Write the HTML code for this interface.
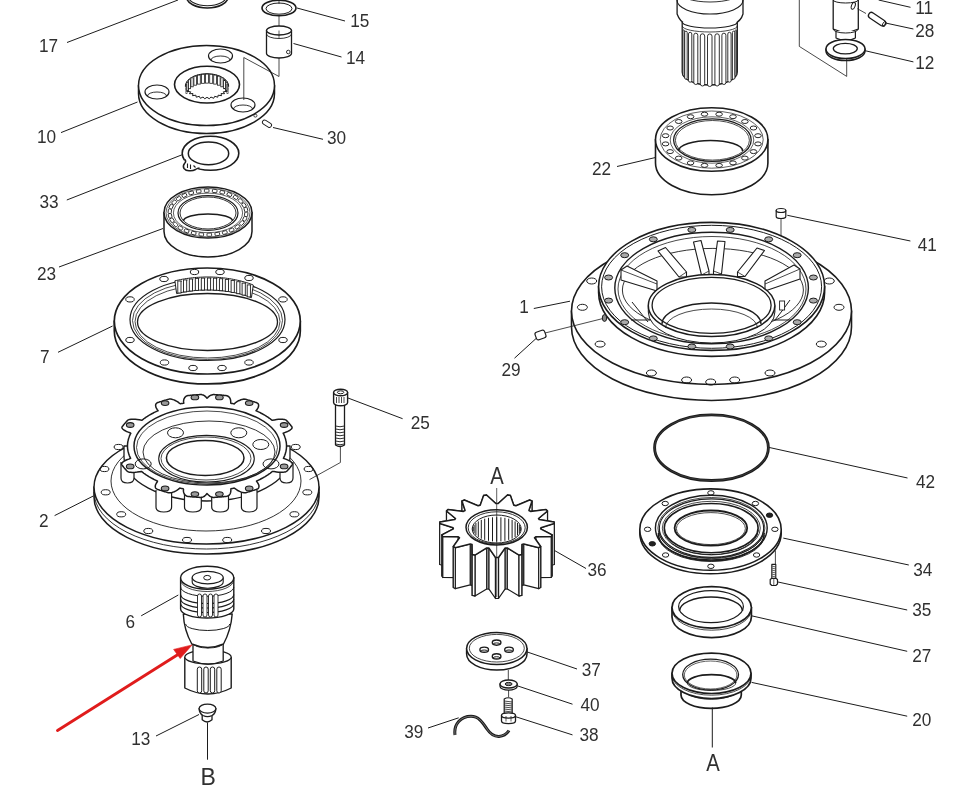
<!DOCTYPE html>
<html><head><meta charset="utf-8"><style>
html,body{margin:0;padding:0;background:#fff;}
body{width:967px;height:789px;overflow:hidden;}
svg{display:block;will-change:transform;}
text{font-family:"Liberation Sans",sans-serif;fill:#303030;}
</style></head><body>
<svg width="967" height="789" viewBox="0 0 967 789">
<rect width="967" height="789" fill="#fff"/>
<ellipse cx="207.3" cy="-3" rx="20.7" ry="11" fill="none" stroke="#1c1c1c" stroke-width="1.6"/>
<ellipse cx="207.3" cy="-4.5" rx="19.5" ry="10.2" fill="none" stroke="#1c1c1c" stroke-width="1.1"/>
<line x1="67" y1="42.5" x2="178" y2="0" stroke="#1c1c1c" stroke-width="1.0"/>
<ellipse cx="279" cy="8" rx="17" ry="7.8" fill="none" stroke="#1c1c1c" stroke-width="1.6"/>
<ellipse cx="279" cy="8.6" rx="13" ry="5.6" fill="none" stroke="#1c1c1c" stroke-width="1.0"/>
<line x1="279" y1="0" x2="279" y2="4" stroke="#1c1c1c" stroke-width="0.8"/>
<line x1="279" y1="16" x2="279" y2="29" stroke="#1c1c1c" stroke-width="0.8"/>
<line x1="297" y1="8" x2="345" y2="21" stroke="#1c1c1c" stroke-width="1.0"/>
<path d="M266.5,30.5 L266.5,53.5 A12.5,4.5 0 0 0 291.5,53.5 L291.5,30.5 Z" fill="#fff" stroke="#1c1c1c" stroke-width="1.3" stroke-linejoin="round"/>
<ellipse cx="279" cy="30.5" rx="12.5" ry="4.5" fill="#fff" stroke="#1c1c1c" stroke-width="1.3"/>
<path d="M266.5,34 A12.5,4.5 0 0 0 291.5,34" fill="none" stroke="#1c1c1c" stroke-width="0.9" stroke-linejoin="round"/>
<ellipse cx="288.3" cy="52" rx="1.8" ry="1.8" fill="none" stroke="#1c1c1c" stroke-width="0.9"/>
<line x1="279" y1="30.5" x2="279" y2="38" stroke="#1c1c1c" stroke-width="0.7"/>
<line x1="293.5" y1="43.5" x2="341.5" y2="57" stroke="#1c1c1c" stroke-width="1.0"/>
<path d="M138.5,85.5 L138.5,93.5 A68,40 0 0 0 274.5,93.5 L274.5,85.5 Z" fill="#fff" stroke="#1c1c1c" stroke-width="1.5" stroke-linejoin="round"/>
<ellipse cx="206.5" cy="85.5" rx="68" ry="40" fill="#fff" stroke="#1c1c1c" stroke-width="1.5"/>
<polyline points="279,58 279,76.5 243.8,57.5 243.8,100" fill="none" stroke="#1c1c1c" stroke-width="0.8" stroke-linejoin="round"/>
<ellipse cx="207" cy="84.6" rx="32.5" ry="18.4" fill="none" stroke="#1c1c1c" stroke-width="1.6"/>
<polyline points="228.7,86.3 225.8,87.4 228.2,88.9 225,89.7 226.8,91.4 223.3,91.8 224.6,93.7 221,93.6 221.5,95.7 218.1,95.2 217.8,97.2 214.7,96.3 213.7,98.3 210.9,97 209.3,98.8 207,97.3 204.7,98.8 203.1,97 200.3,98.3 199.3,96.3 196.2,97.2 195.9,95.2 192.5,95.7 193,93.6 189.4,93.7 190.7,91.8 187.2,91.4 189,89.7 185.8,88.9 188.2,87.4 185.3,86.3" fill="none" stroke="#1c1c1c" stroke-width="1.0" stroke-linejoin="round"/>
<path d="M185.3,86.3 A21.7,12.6 0 0 1 228.7,86.3" fill="none" stroke="#1c1c1c" stroke-width="1.0" stroke-linejoin="round"/>
<rect x="186" y="84.3" width="1" height="9" fill="#fff" stroke="#1c1c1c" stroke-width="0.8"/>
<rect x="186.9" y="81.9" width="1.5" height="9" fill="#fff" stroke="#1c1c1c" stroke-width="0.8"/>
<rect x="188.5" y="79.7" width="1.9" height="9" fill="#fff" stroke="#1c1c1c" stroke-width="0.8"/>
<rect x="190.9" y="77.8" width="2.3" height="9" fill="#fff" stroke="#1c1c1c" stroke-width="0.8"/>
<rect x="193.9" y="76.2" width="2.6" height="9" fill="#fff" stroke="#1c1c1c" stroke-width="0.8"/>
<rect x="197.5" y="75.1" width="2.8" height="9" fill="#fff" stroke="#1c1c1c" stroke-width="0.8"/>
<rect x="201.4" y="74.3" width="3" height="9" fill="#fff" stroke="#1c1c1c" stroke-width="0.8"/>
<rect x="205.5" y="74.1" width="3" height="9" fill="#fff" stroke="#1c1c1c" stroke-width="0.8"/>
<rect x="209.7" y="74.3" width="3" height="9" fill="#fff" stroke="#1c1c1c" stroke-width="0.8"/>
<rect x="213.7" y="75.1" width="2.8" height="9" fill="#fff" stroke="#1c1c1c" stroke-width="0.8"/>
<rect x="217.5" y="76.2" width="2.6" height="9" fill="#fff" stroke="#1c1c1c" stroke-width="0.8"/>
<rect x="220.8" y="77.8" width="2.3" height="9" fill="#fff" stroke="#1c1c1c" stroke-width="0.8"/>
<rect x="223.6" y="79.7" width="1.9" height="9" fill="#fff" stroke="#1c1c1c" stroke-width="0.8"/>
<rect x="225.7" y="81.9" width="1.5" height="9" fill="#fff" stroke="#1c1c1c" stroke-width="0.8"/>
<rect x="227" y="84.3" width="1" height="9" fill="#fff" stroke="#1c1c1c" stroke-width="0.8"/>
<ellipse cx="157" cy="92" rx="12" ry="7" fill="none" stroke="#1c1c1c" stroke-width="1.2"/>
<path d="M147.5,96 A9.5,4 0 0 1 166.5,96" fill="none" stroke="#1c1c1c" stroke-width="0.9" stroke-linejoin="round"/>
<ellipse cx="220.5" cy="56" rx="12" ry="7" fill="none" stroke="#1c1c1c" stroke-width="1.2"/>
<path d="M211,60 A9.5,4 0 0 1 230,60" fill="none" stroke="#1c1c1c" stroke-width="0.9" stroke-linejoin="round"/>
<ellipse cx="243" cy="105" rx="12" ry="7" fill="none" stroke="#1c1c1c" stroke-width="1.2"/>
<path d="M233.5,109 A9.5,4 0 0 1 252.5,109" fill="none" stroke="#1c1c1c" stroke-width="0.9" stroke-linejoin="round"/>
<ellipse cx="255.4" cy="115.7" rx="1.6" ry="1.4" fill="none" stroke="#1c1c1c" stroke-width="0.8"/>
<rect x="262" y="121.5" width="10" height="4.4" rx="2.2" fill="#fff" stroke="#1c1c1c" stroke-width="0.9" transform="rotate(32 267 123.7)"/>
<line x1="273" y1="127.5" x2="323" y2="139.3" stroke="#1c1c1c" stroke-width="1.0"/>
<line x1="61" y1="132.6" x2="137.5" y2="102" stroke="#1c1c1c" stroke-width="1.0"/>
<ellipse cx="210.5" cy="153.3" rx="28.3" ry="17" fill="none" stroke="#1c1c1c" stroke-width="1.6"/>
<ellipse cx="208.5" cy="153.4" rx="20.2" ry="11.4" fill="none" stroke="#1c1c1c" stroke-width="1.5"/>
<polygon points="185.5,158.5 183,163 183.2,167.5 186.5,170.6 191.5,171.2 196,169.5 199,167.5 195,164 189,161" fill="#fff" stroke="none" stroke-width="0" stroke-linejoin="round"/>
<path d="M185,159.5 Q186.5,162 184.5,163.5 Q182.5,166 184,168.5 Q186,171 189.5,170.8 Q193,171 195.5,169.5 Q197.5,168 199.5,168" fill="none" stroke="#1c1c1c" stroke-width="1.5" stroke-linejoin="round"/>
<path d="M187.5,163.5 L187.5,168 M190.5,164.5 L190.5,169 M193.5,165.5 L195.5,167.5" fill="none" stroke="#1c1c1c" stroke-width="1.1" stroke-linejoin="round"/>
<line x1="66.8" y1="200" x2="182" y2="154.8" stroke="#1c1c1c" stroke-width="1.0"/>
<path d="M164,212.5 L164,231.5 A44,25.5 0 0 0 252,231.5 L252,212.5 Z" fill="#fff" stroke="#1c1c1c" stroke-width="1.5" stroke-linejoin="round"/>
<ellipse cx="208" cy="212.5" rx="44" ry="25.5" fill="#fff" stroke="#1c1c1c" stroke-width="1.5"/>
<ellipse cx="208" cy="213" rx="30" ry="17.3" fill="none" stroke="#1c1c1c" stroke-width="1.2"/>
<ellipse cx="208" cy="213" rx="28" ry="16" fill="none" stroke="#1c1c1c" stroke-width="0.9"/>
<path d="M183.5,221 A24.5,7 0 0 1 232.5,221" fill="none" stroke="#1c1c1c" stroke-width="1.6" stroke-linejoin="round"/>
<ellipse cx="208" cy="212.7" rx="42" ry="24.2" fill="none" stroke="#1c1c1c" stroke-width="0.7"/>
<ellipse cx="208" cy="212.9" rx="34.6" ry="19.8" fill="none" stroke="#1c1c1c" stroke-width="0.7"/>
<rect x="243.9" y="212.6" width="4.6" height="3.2" rx="0.8" fill="#fff" stroke="#1c1c1c" stroke-width="0.85" transform="rotate(96.9 246.2 214.2)"/>
<rect x="242.5" y="217.2" width="4.6" height="3.2" rx="0.8" fill="#fff" stroke="#1c1c1c" stroke-width="0.85" transform="rotate(116.5 244.8 218.8)"/>
<rect x="239.5" y="221.4" width="4.6" height="3.2" rx="0.8" fill="#fff" stroke="#1c1c1c" stroke-width="0.85" transform="rotate(132.8 241.8 223)"/>
<rect x="235" y="225.2" width="4.6" height="3.2" rx="0.8" fill="#fff" stroke="#1c1c1c" stroke-width="0.85" transform="rotate(145.6 237.3 226.8)"/>
<rect x="229.3" y="228.4" width="4.6" height="3.2" rx="0.8" fill="#fff" stroke="#1c1c1c" stroke-width="0.85" transform="rotate(155.8 231.6 230)"/>
<rect x="222.5" y="230.9" width="4.6" height="3.2" rx="0.8" fill="#fff" stroke="#1c1c1c" stroke-width="0.85" transform="rotate(164.3 224.8 232.5)"/>
<rect x="215" y="232.4" width="4.6" height="3.2" rx="0.8" fill="#fff" stroke="#1c1c1c" stroke-width="0.85" transform="rotate(171.8 217.3 234)"/>
<rect x="207" y="233.1" width="4.6" height="3.2" rx="0.8" fill="#fff" stroke="#1c1c1c" stroke-width="0.85" transform="rotate(178.9 209.3 234.7)"/>
<rect x="199" y="232.8" width="4.6" height="3.2" rx="0.8" fill="#fff" stroke="#1c1c1c" stroke-width="0.85" transform="rotate(-174.2 201.3 234.4)"/>
<rect x="191.4" y="231.5" width="4.6" height="3.2" rx="0.8" fill="#fff" stroke="#1c1c1c" stroke-width="0.85" transform="rotate(-166.9 193.7 233.1)"/>
<rect x="184.3" y="229.3" width="4.6" height="3.2" rx="0.8" fill="#fff" stroke="#1c1c1c" stroke-width="0.85" transform="rotate(-158.8 186.6 230.9)"/>
<rect x="178.1" y="226.4" width="4.6" height="3.2" rx="0.8" fill="#fff" stroke="#1c1c1c" stroke-width="0.85" transform="rotate(-149.3 180.4 228)"/>
<rect x="173.2" y="222.8" width="4.6" height="3.2" rx="0.8" fill="#fff" stroke="#1c1c1c" stroke-width="0.85" transform="rotate(-137.4 175.5 224.4)"/>
<rect x="169.7" y="218.6" width="4.6" height="3.2" rx="0.8" fill="#fff" stroke="#1c1c1c" stroke-width="0.85" transform="rotate(-122.4 172 220.2)"/>
<rect x="167.8" y="214.2" width="4.6" height="3.2" rx="0.8" fill="#fff" stroke="#1c1c1c" stroke-width="0.85" transform="rotate(-103.7 170.1 215.8)"/>
<rect x="167.5" y="209.6" width="4.6" height="3.2" rx="0.8" fill="#fff" stroke="#1c1c1c" stroke-width="0.85" transform="rotate(-83.1 169.8 211.2)"/>
<rect x="168.9" y="205" width="4.6" height="3.2" rx="0.8" fill="#fff" stroke="#1c1c1c" stroke-width="0.85" transform="rotate(-63.5 171.2 206.6)"/>
<rect x="171.9" y="200.8" width="4.6" height="3.2" rx="0.8" fill="#fff" stroke="#1c1c1c" stroke-width="0.85" transform="rotate(-47.2 174.2 202.4)"/>
<rect x="176.4" y="197" width="4.6" height="3.2" rx="0.8" fill="#fff" stroke="#1c1c1c" stroke-width="0.85" transform="rotate(-34.4 178.7 198.6)"/>
<rect x="182.1" y="193.8" width="4.6" height="3.2" rx="0.8" fill="#fff" stroke="#1c1c1c" stroke-width="0.85" transform="rotate(-24.2 184.4 195.4)"/>
<rect x="188.9" y="191.3" width="4.6" height="3.2" rx="0.8" fill="#fff" stroke="#1c1c1c" stroke-width="0.85" transform="rotate(-15.7 191.2 192.9)"/>
<rect x="196.4" y="189.8" width="4.6" height="3.2" rx="0.8" fill="#fff" stroke="#1c1c1c" stroke-width="0.85" transform="rotate(-8.2 198.7 191.4)"/>
<rect x="204.4" y="189.1" width="4.6" height="3.2" rx="0.8" fill="#fff" stroke="#1c1c1c" stroke-width="0.85" transform="rotate(-1.1 206.7 190.7)"/>
<rect x="212.4" y="189.4" width="4.6" height="3.2" rx="0.8" fill="#fff" stroke="#1c1c1c" stroke-width="0.85" transform="rotate(5.8 214.7 191)"/>
<rect x="220" y="190.7" width="4.6" height="3.2" rx="0.8" fill="#fff" stroke="#1c1c1c" stroke-width="0.85" transform="rotate(13.1 222.3 192.3)"/>
<rect x="227.1" y="192.9" width="4.6" height="3.2" rx="0.8" fill="#fff" stroke="#1c1c1c" stroke-width="0.85" transform="rotate(21.2 229.4 194.5)"/>
<rect x="233.3" y="195.8" width="4.6" height="3.2" rx="0.8" fill="#fff" stroke="#1c1c1c" stroke-width="0.85" transform="rotate(30.7 235.6 197.4)"/>
<rect x="238.2" y="199.4" width="4.6" height="3.2" rx="0.8" fill="#fff" stroke="#1c1c1c" stroke-width="0.85" transform="rotate(42.6 240.5 201)"/>
<rect x="241.7" y="203.6" width="4.6" height="3.2" rx="0.8" fill="#fff" stroke="#1c1c1c" stroke-width="0.85" transform="rotate(57.6 244 205.2)"/>
<rect x="243.6" y="208" width="4.6" height="3.2" rx="0.8" fill="#fff" stroke="#1c1c1c" stroke-width="0.85" transform="rotate(76.3 245.9 209.6)"/>
<line x1="59" y1="267" x2="163" y2="228.5" stroke="#1c1c1c" stroke-width="1.0"/>
<path d="M114.3,321 L114.3,331 A93,53 0 0 0 300.3,331 L300.3,321 Z" fill="#fff" stroke="#1c1c1c" stroke-width="1.7" stroke-linejoin="round"/>
<ellipse cx="207.3" cy="321" rx="93" ry="53" fill="#fff" stroke="#1c1c1c" stroke-width="1.7"/>
<ellipse cx="207.5" cy="319.5" rx="77.5" ry="41" fill="none" stroke="#1c1c1c" stroke-width="1.2"/>
<ellipse cx="207.5" cy="320.5" rx="75" ry="39" fill="none" stroke="#1c1c1c" stroke-width="0.8"/>
<ellipse cx="207.5" cy="321.5" rx="72.5" ry="36.5" fill="none" stroke="#1c1c1c" stroke-width="0.8"/>
<ellipse cx="207.5" cy="322" rx="70" ry="28.5" fill="none" stroke="#1c1c1c" stroke-width="1.3"/>
<polygon points="174.9,280.8 176.7,280.4 178.6,280 180.6,279.6 182.5,279.2 184.5,278.9 186.5,278.5 188.5,278.3 190.5,278 192.5,277.8 194.6,277.6 196.6,277.4 198.7,277.3 200.8,277.2 202.8,277.1 204.9,277 207,277 209.1,277 211.1,277 213.2,277.1 215.3,277.2 217.3,277.3 219.4,277.5 221.5,277.7 223.5,277.9 225.5,278.1 227.5,278.4 229.5,278.7 231.5,279 233.5,279.4 235.4,279.8 237.3,280.2 239.2,280.6 241.1,281.1 242.9,281.6 244.7,282.1 246.5,282.6 248.3,283.2 250,283.8 251.7,284.4 253.3,285.1 251.4,297.7 249.8,297 248.2,296.5 246.6,295.9 244.9,295.4 243.2,294.8 241.4,294.4 239.7,293.9 237.9,293.4 236.1,293 234.3,292.6 232.4,292.3 230.5,291.9 228.7,291.6 226.8,291.3 224.9,291.1 222.9,290.9 221,290.7 219,290.5 217.1,290.3 215.1,290.2 213.2,290.1 211.2,290 209.2,290 207.2,290 205.3,290 203.3,290.1 201.3,290.1 199.4,290.2 197.4,290.4 195.5,290.5 193.5,290.7 191.6,290.9 189.7,291.2 187.7,291.4 185.9,291.7 184,292 182.1,292.4 180.3,292.7 178.4,293.1 176.6,293.6" fill="#fff" stroke="#1c1c1c" stroke-width="1.0" stroke-linejoin="round"/>
<rect x="177.8" y="281" width="3.2" height="12" fill="#fff" stroke="#1c1c1c" stroke-width="0.9"/>
<line x1="181" y1="281.5" x2="182" y2="281" stroke="#1c1c1c" stroke-width="0.7"/>
<rect x="183.5" y="279.9" width="3.2" height="12" fill="#fff" stroke="#1c1c1c" stroke-width="0.9"/>
<line x1="186.7" y1="280.4" x2="187.7" y2="279.9" stroke="#1c1c1c" stroke-width="0.7"/>
<rect x="189.3" y="279" width="3.2" height="12" fill="#fff" stroke="#1c1c1c" stroke-width="0.9"/>
<line x1="192.5" y1="279.5" x2="193.5" y2="279" stroke="#1c1c1c" stroke-width="0.7"/>
<rect x="195.3" y="278.4" width="3.2" height="12" fill="#fff" stroke="#1c1c1c" stroke-width="0.9"/>
<line x1="198.5" y1="278.9" x2="199.5" y2="278.4" stroke="#1c1c1c" stroke-width="0.7"/>
<rect x="201.3" y="278.1" width="3.2" height="12" fill="#fff" stroke="#1c1c1c" stroke-width="0.9"/>
<line x1="204.5" y1="278.6" x2="205.5" y2="278.1" stroke="#1c1c1c" stroke-width="0.7"/>
<rect x="207.4" y="278" width="3.2" height="12" fill="#fff" stroke="#1c1c1c" stroke-width="0.9"/>
<line x1="210.6" y1="278.5" x2="211.6" y2="278" stroke="#1c1c1c" stroke-width="0.7"/>
<rect x="213.4" y="278.2" width="3.2" height="12" fill="#fff" stroke="#1c1c1c" stroke-width="0.9"/>
<line x1="216.6" y1="278.7" x2="217.6" y2="278.2" stroke="#1c1c1c" stroke-width="0.7"/>
<rect x="219.4" y="278.7" width="3.2" height="12" fill="#fff" stroke="#1c1c1c" stroke-width="0.9"/>
<line x1="222.6" y1="279.2" x2="223.6" y2="278.7" stroke="#1c1c1c" stroke-width="0.7"/>
<rect x="225.3" y="279.4" width="3.2" height="12" fill="#fff" stroke="#1c1c1c" stroke-width="0.9"/>
<line x1="228.5" y1="279.9" x2="229.5" y2="279.4" stroke="#1c1c1c" stroke-width="0.7"/>
<rect x="231.1" y="280.4" width="3.2" height="12" fill="#fff" stroke="#1c1c1c" stroke-width="0.9"/>
<line x1="234.3" y1="280.9" x2="235.3" y2="280.4" stroke="#1c1c1c" stroke-width="0.7"/>
<rect x="236.7" y="281.7" width="3.2" height="12" fill="#fff" stroke="#1c1c1c" stroke-width="0.9"/>
<line x1="239.9" y1="282.2" x2="240.9" y2="281.7" stroke="#1c1c1c" stroke-width="0.7"/>
<rect x="242.1" y="283.1" width="3.2" height="12" fill="#fff" stroke="#1c1c1c" stroke-width="0.9"/>
<line x1="245.3" y1="283.6" x2="246.3" y2="283.1" stroke="#1c1c1c" stroke-width="0.7"/>
<rect x="247.2" y="284.9" width="3.2" height="12" fill="#fff" stroke="#1c1c1c" stroke-width="0.9"/>
<line x1="250.4" y1="285.4" x2="251.4" y2="284.9" stroke="#1c1c1c" stroke-width="0.7"/>
<ellipse cx="164" cy="279" rx="4.2" ry="2.6" fill="none" stroke="#1c1c1c" stroke-width="1.0"/>
<ellipse cx="194.5" cy="272" rx="4.2" ry="2.6" fill="none" stroke="#1c1c1c" stroke-width="1.0"/>
<ellipse cx="220" cy="272" rx="4.2" ry="2.6" fill="none" stroke="#1c1c1c" stroke-width="1.0"/>
<ellipse cx="249" cy="278" rx="4.2" ry="2.6" fill="none" stroke="#1c1c1c" stroke-width="1.0"/>
<ellipse cx="283" cy="299.4" rx="4.2" ry="2.6" fill="none" stroke="#1c1c1c" stroke-width="1.0"/>
<ellipse cx="283" cy="340" rx="4.2" ry="2.6" fill="none" stroke="#1c1c1c" stroke-width="1.0"/>
<ellipse cx="249" cy="362.5" rx="4.2" ry="2.6" fill="none" stroke="#1c1c1c" stroke-width="1.0"/>
<ellipse cx="222" cy="368" rx="4.2" ry="2.6" fill="none" stroke="#1c1c1c" stroke-width="1.0"/>
<ellipse cx="193" cy="368" rx="4.2" ry="2.6" fill="none" stroke="#1c1c1c" stroke-width="1.0"/>
<ellipse cx="164.5" cy="362.5" rx="4.2" ry="2.6" fill="none" stroke="#1c1c1c" stroke-width="1.0"/>
<ellipse cx="130" cy="340" rx="4.2" ry="2.6" fill="none" stroke="#1c1c1c" stroke-width="1.0"/>
<ellipse cx="130" cy="299.4" rx="4.2" ry="2.6" fill="none" stroke="#1c1c1c" stroke-width="1.0"/>
<line x1="58" y1="352.3" x2="112.6" y2="326" stroke="#1c1c1c" stroke-width="1.0"/>
<path d="M94,487 L94,497 A112.5,57 0 0 0 319,497 L319,487 Z" fill="#fff" stroke="#1c1c1c" stroke-width="1.5" stroke-linejoin="round"/>
<ellipse cx="206.5" cy="487" rx="112.5" ry="57" fill="#fff" stroke="#1c1c1c" stroke-width="1.5"/>
<path d="M94,492 A112.5,57 0 0 0 319,492" fill="none" stroke="#1c1c1c" stroke-width="0.9" stroke-linejoin="round"/>
<ellipse cx="206" cy="481" rx="95" ry="50" fill="none" stroke="#1c1c1c" stroke-width="0.9"/>
<ellipse cx="104.4" cy="469" rx="4.5" ry="2.6" fill="none" stroke="#1c1c1c" stroke-width="1.0"/>
<ellipse cx="105.7" cy="492.3" rx="4.5" ry="2.6" fill="none" stroke="#1c1c1c" stroke-width="1.0"/>
<ellipse cx="121.2" cy="514.3" rx="4.5" ry="2.6" fill="none" stroke="#1c1c1c" stroke-width="1.0"/>
<ellipse cx="148.3" cy="531" rx="4.5" ry="2.6" fill="none" stroke="#1c1c1c" stroke-width="1.0"/>
<ellipse cx="187" cy="540" rx="4.5" ry="2.6" fill="none" stroke="#1c1c1c" stroke-width="1.0"/>
<ellipse cx="227.2" cy="540" rx="4.5" ry="2.6" fill="none" stroke="#1c1c1c" stroke-width="1.0"/>
<ellipse cx="266" cy="531" rx="4.5" ry="2.6" fill="none" stroke="#1c1c1c" stroke-width="1.0"/>
<ellipse cx="294.4" cy="514.3" rx="4.5" ry="2.6" fill="none" stroke="#1c1c1c" stroke-width="1.0"/>
<ellipse cx="307.3" cy="492.3" rx="4.5" ry="2.6" fill="none" stroke="#1c1c1c" stroke-width="1.0"/>
<ellipse cx="308.6" cy="469" rx="4.5" ry="2.6" fill="none" stroke="#1c1c1c" stroke-width="1.0"/>
<ellipse cx="295.7" cy="447" rx="4.5" ry="2.6" fill="none" stroke="#1c1c1c" stroke-width="1.0"/>
<ellipse cx="118.6" cy="447" rx="4.5" ry="2.6" fill="none" stroke="#1c1c1c" stroke-width="1.0"/>
<path d="M124,446 L124,457 A83,44 0 0 0 290,457 L290,446 Z" fill="#fff" stroke="#1c1c1c" stroke-width="1.3" stroke-linejoin="round"/>
<path d="M121,462 L121,478 Q121,483 127.5,483 Q134,483 134,478 L134,462" fill="#fff" stroke="#1c1c1c" stroke-width="1.2" stroke-linejoin="round"/>
<path d="M156,490 L156,507 Q156,512 163.8,512 Q171.6,512 171.6,507 L171.6,490" fill="#fff" stroke="#1c1c1c" stroke-width="1.2" stroke-linejoin="round"/>
<path d="M184.5,492 L184.5,507 Q184.5,512 192.9,512 Q201.3,512 201.3,507 L201.3,492" fill="#fff" stroke="#1c1c1c" stroke-width="1.2" stroke-linejoin="round"/>
<path d="M211.7,492 L211.7,507 Q211.7,512 220.1,512 Q228.5,512 228.5,507 L228.5,492" fill="#fff" stroke="#1c1c1c" stroke-width="1.2" stroke-linejoin="round"/>
<path d="M241.4,490 L241.4,507 Q241.4,512 249.2,512 Q257,512 257,507 L257,490" fill="#fff" stroke="#1c1c1c" stroke-width="1.2" stroke-linejoin="round"/>
<path d="M280,462 L280,478 Q280,483 286.5,483 Q293,483 293,478 L293,462" fill="#fff" stroke="#1c1c1c" stroke-width="1.2" stroke-linejoin="round"/>
<polygon points="127.5,446 127.5,445.6 127.5,445.2 127.5,444.8 127.5,444.4 127.6,444 127.6,443.7 127.6,443.3 127.7,442.9 127.7,442.5 127.8,442.1 127.9,441.7 127.9,441.3 128,440.9 128.1,440.5 128.2,440.2 128.3,439.8 128.4,439.4 128.5,439 128.6,438.6 128.7,438.2 128.8,437.8 129,437.5 129.1,437.1 129.2,436.7 129.4,436.3 129.5,435.9 129.7,435.5 129.9,435.2 130,434.8 130.2,434.4 130.4,434 130.6,433.7 130.8,433.3 129.9,432.7 127.6,431.9 126,431.2 124.8,430.5 123.8,429.9 123,429.2 122.5,428.7 122.1,428.1 121.9,427.6 122,427.1 122.2,426.7 122.5,426.3 122.8,425.9 123.2,425.5 123.5,425 123.8,424.6 124.1,424.2 124.5,423.8 124.8,423.4 125.2,423 125.5,422.6 125.9,422.2 126.3,421.8 126.7,421.4 127,421 127.4,420.6 127.8,420.2 128.4,419.9 129.1,419.6 130,419.4 131,419.2 132.3,419.2 133.7,419.2 135.3,419.2 137.1,419.4 139.2,419.8 141.9,420.3 142.3,420 142.7,419.7 143.1,419.4 143.5,419 143.9,418.7 144.4,418.4 144.8,418.1 145.2,417.8 145.7,417.5 146.1,417.2 146.5,416.9 147,416.6 147.5,416.3 147.9,416 148.4,415.7 148.9,415.4 149.3,415.2 149.8,414.9 150.3,414.6 150.8,414.3 151.3,414 151.8,413.8 152.3,413.5 152.8,413.2 153.3,413 153.8,412.7 154.3,412.4 154.8,412.2 155.4,411.9 155.9,411.7 156.4,411.4 157,411.2 157.5,410.9 158.1,410.7 157.1,409.4 156.4,408.1 155.9,407.1 155.7,406.2 155.6,405.4 155.7,404.7 155.9,404.1 156.2,403.6 156.6,403.1 157.2,402.8 157.9,402.5 158.6,402.3 159.2,402.1 159.9,401.8 160.6,401.6 161.3,401.4 162,401.2 162.7,400.9 163.4,400.7 164.1,400.5 164.8,400.3 165.5,400.1 166.2,399.9 166.9,399.7 167.6,399.5 168.4,399.3 169.1,399.1 169.9,399.1 170.8,399.1 171.8,399.3 172.9,399.6 174,399.9 175.2,400.5 176.4,401.1 177.8,401.9 179.3,403.1 180.5,403.8 181.1,403.6 181.8,403.5 182.4,403.4 183.1,403.3 183.8,403.2 183.5,401.3 183.7,400.1 183.9,399.1 184.3,398.3 184.8,397.5 185.3,396.9 185.9,396.4 186.5,396 187.2,395.8 188,395.6 188.8,395.5 189.6,395.4 190.3,395.3 191.1,395.3 191.9,395.2 192.7,395.1 193.5,395 194.3,395 195.1,394.9 195.9,394.9 196.7,394.8 197.4,394.8 198.2,394.7 199,394.7 199.8,394.6 200.6,394.6 201.4,394.6 202.2,394.8 203.1,395 203.9,395.4 204.7,395.9 205.5,396.6 206.2,397.3 207,398.2 207.7,397.6 208.5,396.8 209.3,396.2 210.1,395.6 210.9,395.2 211.8,394.9 212.6,394.7 213.4,394.6 214.2,394.6 215,394.7 215.8,394.7 216.6,394.8 217.3,394.8 218.1,394.9 218.9,394.9 219.7,395 220.5,395 221.3,395.1 222.1,395.2 222.9,395.3 223.7,395.3 224.4,395.4 225.2,395.5 226,395.6 226.8,395.7 227.5,396 228.2,396.3 228.8,396.8 229.3,397.3 229.8,398 230.2,398.8 230.5,399.8 230.7,400.9 230.7,402.3 230.9,403.3 231.6,403.4 232.2,403.5 232.9,403.6 233.5,403.8 234.2,403.9 236,402.3 237.4,401.4 238.7,400.7 239.9,400.2 241,399.7 242.1,399.4 243.1,399.2 244,399.1 244.9,399.2 245.6,399.3 246.4,399.5 247.1,399.7 247.8,399.9 248.5,400.1 249.2,400.3 249.9,400.5 250.6,400.7 251.3,400.9 252,401.2 252.7,401.4 253.4,401.6 254.1,401.8 254.8,402.1 255.4,402.3 256.1,402.5 256.8,402.8 257.4,403.1 257.9,403.5 258.3,404 258.5,404.6 258.6,405.2 258.6,406 258.4,406.9 258,407.9 257.4,409 256,410.7 256.5,410.9 257,411.2 257.6,411.4 258.1,411.7 258.6,411.9 259.2,412.2 259.7,412.4 260.2,412.7 260.7,413 261.2,413.2 261.7,413.5 262.2,413.8 262.7,414 263.2,414.3 263.7,414.6 264.2,414.9 264.7,415.2 265.1,415.4 265.6,415.7 266.1,416 266.5,416.3 267,416.6 267.5,416.9 267.9,417.2 268.3,417.5 268.8,417.8 269.2,418.1 269.6,418.4 270.1,418.7 270.5,419 270.9,419.4 271.3,419.7 271.7,420 272.1,420.3 274.4,419.9 276.6,419.5 278.5,419.3 280.1,419.2 281.6,419.2 282.8,419.3 283.9,419.4 284.9,419.6 285.6,419.9 286.2,420.2 286.6,420.6 287,421 287.3,421.4 287.7,421.8 288.1,422.2 288.5,422.6 288.8,423 289.2,423.4 289.5,423.8 289.9,424.2 290.2,424.6 290.5,425 290.8,425.5 291.2,425.9 291.5,426.3 291.8,426.7 292,427.1 292.1,427.6 292,428.1 291.7,428.6 291.1,429.2 290.4,429.8 289.5,430.5 288.3,431.1 286.8,431.8 284.7,432.6 283.2,433.3 283.4,433.7 283.6,434 283.8,434.4 284,434.8 284.1,435.2 284.3,435.5 284.5,435.9 284.6,436.3 284.8,436.7 284.9,437.1 285,437.5 285.2,437.8 285.3,438.2 285.4,438.6 285.5,439 285.6,439.4 285.7,439.8 285.8,440.2 285.9,440.5 286,440.9 286.1,441.3 286.1,441.7 286.2,442.1 286.3,442.5 286.3,442.9 286.4,443.3 286.4,443.7 286.4,444 286.5,444.4 286.5,444.8 286.5,445.2 286.5,445.6 286.5,446 286.5,446.4 286.5,446.8 286.5,447.2 286.5,447.6 286.4,448 286.4,448.3 286.4,448.7 286.3,449.1 286.3,449.5 286.2,449.9 286.1,450.3 286.1,450.7 286,451.1 285.9,451.5 285.8,451.8 285.7,452.2 285.6,452.6 285.5,453 285.4,453.4 285.3,453.8 285.2,454.2 285,454.5 284.9,454.9 284.8,455.3 284.6,455.7 284.5,456.1 284.3,456.5 284.1,456.8 284,457.2 283.8,457.6 283.6,458 283.4,458.3 285.7,459.1 287.5,459.9 288.9,460.6 290.1,461.2 291,461.8 291.6,462.4 292.1,463 292.4,463.5 292.5,464 292.3,464.5 292.1,464.9 291.8,465.3 291.5,465.7 291.2,466.1 290.8,466.5 290.5,467 290.2,467.4 289.9,467.8 289.5,468.2 289.2,468.6 288.8,469 288.5,469.4 288.1,469.8 287.7,470.2 287.3,470.6 287,471 286.5,471.4 285.9,471.7 285.1,471.9 284.2,472.1 283,472.3 281.7,472.3 280.2,472.3 278.5,472.2 276.6,471.9 274.1,471.5 272.5,471.4 272.1,471.7 271.7,472 271.3,472.3 270.9,472.6 270.5,473 270.1,473.3 269.6,473.6 269.2,473.9 268.8,474.2 268.3,474.5 267.9,474.8 267.5,475.1 267,475.4 266.5,475.7 266.1,476 265.6,476.3 265.1,476.6 264.7,476.8 264.2,477.1 263.7,477.4 263.2,477.7 262.7,478 262.2,478.2 261.7,478.5 261.2,478.8 260.7,479 260.2,479.3 259.7,479.6 259.2,479.8 258.6,480.1 258.1,480.3 257.6,480.6 257,480.8 256.5,481.1 257.3,482.3 258.1,483.5 258.6,484.6 258.9,485.5 259,486.3 258.9,487 258.7,487.6 258.4,488.2 258,488.6 257.5,489 256.8,489.2 256.1,489.5 255.4,489.7 254.8,489.9 254.1,490.2 253.4,490.4 252.7,490.6 252,490.8 251.3,491.1 250.6,491.3 249.9,491.5 249.2,491.7 248.5,491.9 247.8,492.1 247.1,492.3 246.4,492.5 245.6,492.7 244.8,492.8 243.9,492.7 242.9,492.6 241.9,492.3 240.8,491.9 239.6,491.4 238.3,490.8 237,490 235.5,488.9 234.2,488.1 233.5,488.2 232.9,488.4 232.2,488.5 231.6,488.6 230.9,488.7 230.9,490 230.8,491.3 230.6,492.4 230.3,493.3 229.9,494.1 229.4,494.8 228.8,495.3 228.2,495.8 227.5,496.1 226.8,496.3 226,496.4 225.2,496.5 224.4,496.6 223.7,496.7 222.9,496.7 222.1,496.8 221.3,496.9 220.5,497 219.7,497 218.9,497.1 218.1,497.1 217.3,497.2 216.6,497.2 215.8,497.3 215,497.3 214.2,497.4 213.4,497.4 212.6,497.3 211.8,497.1 210.9,496.7 210.1,496.3 209.3,495.7 208.5,495 207.7,494.2 207,493.6 206.2,494.5 205.5,495.3 204.7,496 203.9,496.5 203.1,496.9 202.2,497.2 201.4,497.3 200.6,497.4 199.8,497.4 199,497.3 198.2,497.3 197.4,497.2 196.7,497.2 195.9,497.1 195.1,497.1 194.3,497 193.5,497 192.7,496.9 191.9,496.8 191.1,496.7 190.3,496.7 189.6,496.6 188.8,496.5 188,496.4 187.2,496.3 186.5,496 185.9,495.6 185.3,495.2 184.7,494.6 184.3,493.8 183.9,493 183.6,492 183.4,490.9 183.5,489.3 183.1,488.7 182.4,488.6 181.8,488.5 181.1,488.4 180.5,488.2 179.8,488.1 178.2,489.4 176.8,490.4 175.5,491.1 174.2,491.7 173.1,492.1 172,492.5 171,492.7 170,492.8 169.2,492.8 168.4,492.7 167.6,492.5 166.9,492.3 166.2,492.1 165.5,491.9 164.8,491.7 164.1,491.5 163.4,491.3 162.7,491.1 162,490.8 161.3,490.6 160.6,490.4 159.9,490.2 159.2,489.9 158.6,489.7 157.9,489.5 157.2,489.2 156.6,488.9 156.1,488.6 155.7,488.1 155.4,487.5 155.3,486.9 155.3,486.1 155.4,485.3 155.8,484.3 156.3,483.2 157.3,481.8 157.5,481.1 157,480.8 156.4,480.6 155.9,480.3 155.4,480.1 154.8,479.8 154.3,479.6 153.8,479.3 153.3,479 152.8,478.8 152.3,478.5 151.8,478.2 151.3,478 150.8,477.7 150.3,477.4 149.8,477.1 149.3,476.8 148.9,476.6 148.4,476.3 147.9,476 147.5,475.7 147,475.4 146.5,475.1 146.1,474.8 145.7,474.5 145.2,474.2 144.8,473.9 144.4,473.6 143.9,473.3 143.5,473 143.1,472.6 142.7,472.3 142.3,472 141.9,471.7 141.5,471.4 139.5,471.7 137.2,472.1 135.3,472.3 133.6,472.4 132.1,472.4 130.8,472.3 129.7,472.2 128.8,472 128,471.7 127.5,471.4 127,471 126.7,470.6 126.3,470.2 125.9,469.8 125.5,469.4 125.2,469 124.8,468.6 124.5,468.2 124.1,467.8 123.8,467.4 123.5,467 123.2,466.5 122.8,466.1 122.5,465.7 122.2,465.3 121.9,464.9 121.7,464.5 121.6,464 121.7,463.5 122,463 122.5,462.4 123.2,461.8 124.2,461.2 125.3,460.5 126.8,459.8 128.8,459.1 130.6,458.3 130.4,458 130.2,457.6 130,457.2 129.9,456.8 129.7,456.5 129.5,456.1 129.4,455.7 129.2,455.3 129.1,454.9 129,454.5 128.8,454.2 128.7,453.8 128.6,453.4 128.5,453 128.4,452.6 128.3,452.2 128.2,451.8 128.1,451.5 128,451.1 127.9,450.7 127.9,450.3 127.8,449.9 127.7,449.5 127.7,449.1 127.6,448.7 127.6,448.3 127.6,448 127.5,447.6 127.5,447.2 127.5,446.8 127.5,446.4" fill="#fff" stroke="#1c1c1c" stroke-width="1.5" stroke-linejoin="round"/>
<ellipse cx="130.2" cy="425" rx="3.8" ry="2.4" fill="#999" stroke="#1c1c1c" stroke-width="1.1"/>
<ellipse cx="165.1" cy="403.1" rx="3.8" ry="2.4" fill="#999" stroke="#1c1c1c" stroke-width="1.1"/>
<ellipse cx="194.9" cy="397.4" rx="3.8" ry="2.4" fill="#999" stroke="#1c1c1c" stroke-width="1.1"/>
<ellipse cx="219.4" cy="397.4" rx="3.8" ry="2.4" fill="#999" stroke="#1c1c1c" stroke-width="1.1"/>
<ellipse cx="249.2" cy="403.1" rx="3.8" ry="2.4" fill="#999" stroke="#1c1c1c" stroke-width="1.1"/>
<ellipse cx="284.1" cy="425" rx="3.8" ry="2.4" fill="#999" stroke="#1c1c1c" stroke-width="1.1"/>
<ellipse cx="284.1" cy="466.4" rx="3.8" ry="2.4" fill="#999" stroke="#1c1c1c" stroke-width="1.1"/>
<ellipse cx="249.2" cy="488.4" rx="3.8" ry="2.4" fill="#999" stroke="#1c1c1c" stroke-width="1.1"/>
<ellipse cx="219.4" cy="494.1" rx="3.8" ry="2.4" fill="#999" stroke="#1c1c1c" stroke-width="1.1"/>
<ellipse cx="194.9" cy="494.1" rx="3.8" ry="2.4" fill="#999" stroke="#1c1c1c" stroke-width="1.1"/>
<ellipse cx="165.1" cy="488.4" rx="3.8" ry="2.4" fill="#999" stroke="#1c1c1c" stroke-width="1.1"/>
<ellipse cx="130.2" cy="466.4" rx="3.8" ry="2.4" fill="#999" stroke="#1c1c1c" stroke-width="1.1"/>
<ellipse cx="207" cy="446" rx="73" ry="39" fill="none" stroke="#1c1c1c" stroke-width="1.5"/>
<ellipse cx="207" cy="447.5" rx="70.5" ry="36.5" fill="none" stroke="#1c1c1c" stroke-width="0.8"/>
<ellipse cx="209" cy="452" rx="66" ry="31" fill="none" stroke="#1c1c1c" stroke-width="0.9"/>
<ellipse cx="206.5" cy="458.7" rx="47.8" ry="23.3" fill="none" stroke="#1c1c1c" stroke-width="1.1"/>
<ellipse cx="206" cy="458.5" rx="45" ry="21.5" fill="none" stroke="#1c1c1c" stroke-width="0.8"/>
<ellipse cx="205.2" cy="458" rx="38.8" ry="17.5" fill="none" stroke="#1c1c1c" stroke-width="1.5"/>
<ellipse cx="175.5" cy="432.8" rx="8" ry="5" fill="none" stroke="#1c1c1c" stroke-width="1.0"/>
<ellipse cx="238.8" cy="432.8" rx="8" ry="5" fill="none" stroke="#1c1c1c" stroke-width="1.0"/>
<ellipse cx="260.8" cy="444.5" rx="8" ry="5" fill="none" stroke="#1c1c1c" stroke-width="1.0"/>
<ellipse cx="271" cy="463.9" rx="8" ry="5" fill="none" stroke="#1c1c1c" stroke-width="1.0"/>
<ellipse cx="143.2" cy="463.9" rx="8" ry="5" fill="none" stroke="#1c1c1c" stroke-width="1.0"/>
<path d="M335.5,403 L335.5,445 Q340,448 344.5,445 L344.5,403" fill="#fff" stroke="#1c1c1c" stroke-width="1.3" stroke-linejoin="round"/>
<path d="M335.5,426 Q340,427.5 344.5,426" fill="none" stroke="#1c1c1c" stroke-width="0.9" stroke-linejoin="round"/>
<path d="M335.5,429 Q340,430.5 344.5,429" fill="none" stroke="#1c1c1c" stroke-width="0.9" stroke-linejoin="round"/>
<path d="M335.5,432 Q340,433.5 344.5,432" fill="none" stroke="#1c1c1c" stroke-width="0.9" stroke-linejoin="round"/>
<path d="M335.5,435 Q340,436.5 344.5,435" fill="none" stroke="#1c1c1c" stroke-width="0.9" stroke-linejoin="round"/>
<path d="M335.5,438 Q340,439.5 344.5,438" fill="none" stroke="#1c1c1c" stroke-width="0.9" stroke-linejoin="round"/>
<path d="M335.5,441 Q340,442.5 344.5,441" fill="none" stroke="#1c1c1c" stroke-width="0.9" stroke-linejoin="round"/>
<path d="M335.5,444 Q340,445.5 344.5,444" fill="none" stroke="#1c1c1c" stroke-width="0.9" stroke-linejoin="round"/>
<path d="M333.6,392.5 L333.6,402.5 A7,3.3 0 0 0 347.6,402.5 L347.6,392.5 Z" fill="#fff" stroke="#1c1c1c" stroke-width="1.4" stroke-linejoin="round"/>
<ellipse cx="340.6" cy="392.5" rx="7" ry="3.3" fill="#fff" stroke="#1c1c1c" stroke-width="1.4"/>
<ellipse cx="340.6" cy="392.3" rx="3.2" ry="1.5" fill="none" stroke="#1c1c1c" stroke-width="1.0"/>
<line x1="336.5" y1="397" x2="336.5" y2="403" stroke="#1c1c1c" stroke-width="0.8"/>
<line x1="339" y1="397" x2="339" y2="403" stroke="#1c1c1c" stroke-width="0.8"/>
<line x1="341.5" y1="397" x2="341.5" y2="403" stroke="#1c1c1c" stroke-width="0.8"/>
<line x1="344" y1="397" x2="344" y2="403" stroke="#1c1c1c" stroke-width="0.8"/>
<polyline points="340.4,447 340.4,462.5 309.5,479.6" fill="none" stroke="#1c1c1c" stroke-width="0.8" stroke-linejoin="round"/>
<line x1="348" y1="398" x2="402.6" y2="418.7" stroke="#1c1c1c" stroke-width="1.0"/>
<line x1="54.6" y1="515.6" x2="93.3" y2="496" stroke="#1c1c1c" stroke-width="1.0"/>
<path d="M184.8,657 L184.8,688 Q208,700 231.2,688 L231.2,657" fill="#fff" stroke="#1c1c1c" stroke-width="1.4" stroke-linejoin="round"/>
<rect x="197.3" y="667" width="4.4" height="26" rx="2.2" fill="#fff" stroke="#1c1c1c" stroke-width="1.0"/>
<rect x="203.8" y="667" width="4.4" height="26" rx="2.2" fill="#fff" stroke="#1c1c1c" stroke-width="1.0"/>
<rect x="210.3" y="667" width="4.4" height="26" rx="2.2" fill="#fff" stroke="#1c1c1c" stroke-width="1.0"/>
<rect x="216.8" y="667" width="4.4" height="26" rx="2.2" fill="#fff" stroke="#1c1c1c" stroke-width="1.0"/>
<ellipse cx="208" cy="657" rx="23.2" ry="7" fill="#fff" stroke="#1c1c1c" stroke-width="1.3"/>
<path d="M193,641 L193,661 Q208,667 223.2,661 L223.2,641" fill="#fff" stroke="#1c1c1c" stroke-width="1.3" stroke-linejoin="round"/>
<path d="M193,643 A15.1,5 0 0 0 223.2,643" fill="none" stroke="#1c1c1c" stroke-width="1.0" stroke-linejoin="round"/>
<path d="M183.3,614 Q184,630 191.8,644 Q208,651 223.5,644 Q231,630 232.2,614 Z" fill="#fff" stroke="#1c1c1c" stroke-width="1.4" stroke-linejoin="round"/>
<path d="M185.7,624 A22,6.5 0 0 0 229.7,624" fill="none" stroke="#1c1c1c" stroke-width="1.0" stroke-linejoin="round"/>
<path d="M180.6,577.7 L180.6,609 A26.6,9 0 0 0 233.8,609 L233.8,577.7 Z" fill="#fff" stroke="#1c1c1c" stroke-width="1.4" stroke-linejoin="round"/>
<ellipse cx="207.2" cy="577.7" rx="26.6" ry="11.5" fill="#fff" stroke="#1c1c1c" stroke-width="1.4"/>
<path d="M180.6,580 A26.6,11.5 0 0 0 233.8,580" fill="none" stroke="#1c1c1c" stroke-width="0.8" stroke-linejoin="round"/>
<path d="M180.6,587 A26.6,9.3 0 0 0 233.8,587" fill="none" stroke="#1c1c1c" stroke-width="1.0" stroke-linejoin="round"/>
<path d="M180.6,594.5 A26.6,9 0 0 0 233.8,594.5" fill="none" stroke="#1c1c1c" stroke-width="1.1" stroke-linejoin="round"/>
<path d="M180.6,599 A26.6,9 0 0 0 233.8,599" fill="none" stroke="#1c1c1c" stroke-width="1.1" stroke-linejoin="round"/>
<path d="M180.6,603.5 A26.6,9 0 0 0 233.8,603.5" fill="none" stroke="#1c1c1c" stroke-width="1.1" stroke-linejoin="round"/>
<rect x="197.5" y="594" width="4" height="23" rx="2" fill="#fff" stroke="#1c1c1c" stroke-width="0.9"/>
<rect x="203" y="594" width="4" height="23" rx="2" fill="#fff" stroke="#1c1c1c" stroke-width="0.9"/>
<rect x="208.5" y="594" width="4" height="23" rx="2" fill="#fff" stroke="#1c1c1c" stroke-width="0.9"/>
<rect x="214" y="594" width="4" height="23" rx="2" fill="#fff" stroke="#1c1c1c" stroke-width="0.9"/>
<path d="M192.2,577.6 L192.2,582 A15.5,6.2 0 0 0 223.2,582 L223.2,577.6" fill="#fff" stroke="#1c1c1c" stroke-width="1.1" stroke-linejoin="round"/>
<ellipse cx="207.7" cy="577.6" rx="15.5" ry="6.2" fill="#fff" stroke="#1c1c1c" stroke-width="1.2"/>
<ellipse cx="207.2" cy="577.7" rx="3.5" ry="2.3" fill="none" stroke="#1c1c1c" stroke-width="1.0"/>
<line x1="141.2" y1="615.8" x2="178.3" y2="595" stroke="#1c1c1c" stroke-width="1.0"/>
<line x1="57.5" y1="730.5" x2="178" y2="654.5" stroke="#e01c1c" stroke-width="2.9" stroke-linecap="round"/>
<polygon points="192.1,644.9 173.6,649.4 180.2,658.6" fill="#e01c1c" stroke="#e01c1c" stroke-width="0.6" stroke-linejoin="round"/>
<path d="M202.2,714 L202.2,719.8 Q207.1,724.3 212,719.8 L212,714" fill="#fff" stroke="#1c1c1c" stroke-width="1.3" stroke-linejoin="round"/>
<path d="M199.1,708.6 Q199.3,713.5 203,715.5 Q207.5,717.8 212,715.5 Q215.7,713.5 215.9,708.6 Z" fill="#fff" stroke="#1c1c1c" stroke-width="1.3" stroke-linejoin="round"/>
<ellipse cx="207.5" cy="708.6" rx="8.4" ry="4.5" fill="#fff" stroke="#1c1c1c" stroke-width="1.3"/>
<line x1="207.5" y1="722.5" x2="207.5" y2="759.7" stroke="#1c1c1c" stroke-width="1.0"/>
<line x1="156" y1="736" x2="199" y2="714.5" stroke="#1c1c1c" stroke-width="1.0"/>
<polygon points="483.6,495.4 486.5,495 486.5,536 483.6,536.4" fill="#fff" stroke="#1c1c1c" stroke-width="1.2" stroke-linejoin="round"/>
<polygon points="507.5,495 510.4,495.4 510.4,536.4 507.5,536" fill="#fff" stroke="#1c1c1c" stroke-width="1.2" stroke-linejoin="round"/>
<polygon points="486.5,495 495.8,503.5 495.8,544.5 486.5,536" fill="#fff" stroke="#1c1c1c" stroke-width="1.2" stroke-linejoin="round"/>
<polygon points="498.2,503.5 507.5,495 507.5,536 498.2,544.5" fill="#fff" stroke="#1c1c1c" stroke-width="1.2" stroke-linejoin="round"/>
<polygon points="480.2,505.2 483.6,495.4 483.6,536.4 480.2,546.2" fill="#fff" stroke="#1c1c1c" stroke-width="1.2" stroke-linejoin="round"/>
<polygon points="510.4,495.4 513.8,505.2 513.8,546.2 510.4,536.4" fill="#fff" stroke="#1c1c1c" stroke-width="1.2" stroke-linejoin="round"/>
<polygon points="462,501 464.4,500 464.4,541 462,542" fill="#fff" stroke="#1c1c1c" stroke-width="1.2" stroke-linejoin="round"/>
<polygon points="529.6,500 532,501 532,542 529.6,541" fill="#fff" stroke="#1c1c1c" stroke-width="1.2" stroke-linejoin="round"/>
<polygon points="464.4,500 478.1,505.7 478.1,546.7 464.4,541" fill="#fff" stroke="#1c1c1c" stroke-width="1.2" stroke-linejoin="round"/>
<polygon points="515.9,505.7 529.6,500 529.6,541 515.9,546.7" fill="#fff" stroke="#1c1c1c" stroke-width="1.2" stroke-linejoin="round"/>
<polygon points="495.8,503.5 498.2,503.5 498.2,544.5 495.8,544.5" fill="#fff" stroke="#1c1c1c" stroke-width="1.2" stroke-linejoin="round"/>
<polygon points="478.1,505.7 480.2,505.2 480.2,546.2 478.1,546.7" fill="#fff" stroke="#1c1c1c" stroke-width="1.2" stroke-linejoin="round"/>
<polygon points="513.8,505.2 515.9,505.7 515.9,546.7 513.8,546.2" fill="#fff" stroke="#1c1c1c" stroke-width="1.2" stroke-linejoin="round"/>
<polygon points="465.1,510.5 462,501 462,542 465.1,551.5" fill="#fff" stroke="#1c1c1c" stroke-width="1.2" stroke-linejoin="round"/>
<polygon points="532,501 528.9,510.5 528.9,551.5 532,542" fill="#fff" stroke="#1c1c1c" stroke-width="1.2" stroke-linejoin="round"/>
<polygon points="446.5,511 448,509.5 448,550.5 446.5,552" fill="#fff" stroke="#1c1c1c" stroke-width="1.2" stroke-linejoin="round"/>
<polygon points="546,509.5 547.5,511 547.5,552 546,550.5" fill="#fff" stroke="#1c1c1c" stroke-width="1.2" stroke-linejoin="round"/>
<polygon points="448,509.5 463.5,511.4 463.5,552.4 448,550.5" fill="#fff" stroke="#1c1c1c" stroke-width="1.2" stroke-linejoin="round"/>
<polygon points="530.5,511.4 546,509.5 546,550.5 530.5,552.4" fill="#fff" stroke="#1c1c1c" stroke-width="1.2" stroke-linejoin="round"/>
<polygon points="463.5,511.4 465.1,510.5 465.1,551.5 463.5,552.4" fill="#fff" stroke="#1c1c1c" stroke-width="1.2" stroke-linejoin="round"/>
<polygon points="528.9,510.5 530.5,511.4 530.5,552.4 528.9,551.5" fill="#fff" stroke="#1c1c1c" stroke-width="1.2" stroke-linejoin="round"/>
<polygon points="455.5,518.5 446.5,511 446.5,552 455.5,559.5" fill="#fff" stroke="#1c1c1c" stroke-width="1.2" stroke-linejoin="round"/>
<polygon points="547.5,511 538.5,518.5 538.5,559.5 547.5,552" fill="#fff" stroke="#1c1c1c" stroke-width="1.2" stroke-linejoin="round"/>
<polygon points="454.8,519.6 455.5,518.5 455.5,559.5 454.8,560.6" fill="#fff" stroke="#1c1c1c" stroke-width="1.2" stroke-linejoin="round"/>
<polygon points="538.5,518.5 539.2,519.6 539.2,560.6 538.5,559.5" fill="#fff" stroke="#1c1c1c" stroke-width="1.2" stroke-linejoin="round"/>
<polygon points="440,521.9 454.8,519.6 454.8,560.6 440,562.9" fill="#fff" stroke="#1c1c1c" stroke-width="1.2" stroke-linejoin="round"/>
<polygon points="539.2,519.6 554,521.9 554,562.9 539.2,560.6" fill="#fff" stroke="#1c1c1c" stroke-width="1.2" stroke-linejoin="round"/>
<polygon points="439.7,523.5 440,521.9 440,562.9 439.7,564.5" fill="#fff" stroke="#1c1c1c" stroke-width="1.2" stroke-linejoin="round"/>
<polygon points="554,521.9 554.3,523.5 554.3,564.5 554,562.9" fill="#fff" stroke="#1c1c1c" stroke-width="1.2" stroke-linejoin="round"/>
<polygon points="453.1,527.8 439.7,523.5 439.7,564.5 453.1,568.8" fill="#fff" stroke="#1c1c1c" stroke-width="1.2" stroke-linejoin="round"/>
<polygon points="554.3,523.5 540.9,527.8 540.9,568.8 554.3,564.5" fill="#fff" stroke="#1c1c1c" stroke-width="1.2" stroke-linejoin="round"/>
<polygon points="453.4,528.9 453.1,527.8 453.1,568.8 453.4,569.9" fill="#fff" stroke="#1c1c1c" stroke-width="1.2" stroke-linejoin="round"/>
<polygon points="540.9,527.8 540.6,528.9 540.6,569.9 540.9,568.8" fill="#fff" stroke="#1c1c1c" stroke-width="1.2" stroke-linejoin="round"/>
<polygon points="441.9,534.9 453.4,528.9 453.4,569.9 441.9,575.9" fill="#fff" stroke="#1c1c1c" stroke-width="1.2" stroke-linejoin="round"/>
<polygon points="540.6,528.9 552.1,534.9 552.1,575.9 540.6,569.9" fill="#fff" stroke="#1c1c1c" stroke-width="1.2" stroke-linejoin="round"/>
<polygon points="442.8,536.5 441.9,534.9 441.9,575.9 442.8,577.5" fill="#fff" stroke="#1c1c1c" stroke-width="1.2" stroke-linejoin="round"/>
<polygon points="552.1,534.9 551.2,536.5 551.2,577.5 552.1,575.9" fill="#fff" stroke="#1c1c1c" stroke-width="1.2" stroke-linejoin="round"/>
<polygon points="458.3,536.7 442.8,536.5 442.8,577.5 458.3,577.7" fill="#fff" stroke="#1c1c1c" stroke-width="1.2" stroke-linejoin="round"/>
<polygon points="551.2,536.5 535.7,536.7 535.7,577.7 551.2,577.5" fill="#fff" stroke="#1c1c1c" stroke-width="1.2" stroke-linejoin="round"/>
<polygon points="459.5,537.8 458.3,536.7 458.3,577.7 459.5,578.8" fill="#fff" stroke="#1c1c1c" stroke-width="1.2" stroke-linejoin="round"/>
<polygon points="535.7,536.7 534.5,537.8 534.5,578.8 535.7,577.7" fill="#fff" stroke="#1c1c1c" stroke-width="1.2" stroke-linejoin="round"/>
<polygon points="453.3,546.5 459.5,537.8 459.5,578.8 453.3,587.5" fill="#fff" stroke="#1c1c1c" stroke-width="1.2" stroke-linejoin="round"/>
<polygon points="534.5,537.8 540.7,546.5 540.7,587.5 534.5,578.8" fill="#fff" stroke="#1c1c1c" stroke-width="1.2" stroke-linejoin="round"/>
<polygon points="472.1,544.5 470.2,543.9 470.2,584.9 472.1,585.5" fill="#fff" stroke="#1c1c1c" stroke-width="1.2" stroke-linejoin="round"/>
<polygon points="523.8,543.9 521.9,544.5 521.9,585.5 523.8,584.9" fill="#fff" stroke="#1c1c1c" stroke-width="1.2" stroke-linejoin="round"/>
<polygon points="470.2,543.9 455.3,547.7 455.3,588.7 470.2,584.9" fill="#fff" stroke="#1c1c1c" stroke-width="1.2" stroke-linejoin="round"/>
<polygon points="538.7,547.7 523.8,543.9 523.8,584.9 538.7,588.7" fill="#fff" stroke="#1c1c1c" stroke-width="1.2" stroke-linejoin="round"/>
<polygon points="455.3,547.7 453.3,546.5 453.3,587.5 455.3,588.7" fill="#fff" stroke="#1c1c1c" stroke-width="1.2" stroke-linejoin="round"/>
<polygon points="540.7,546.5 538.7,547.7 538.7,588.7 540.7,587.5" fill="#fff" stroke="#1c1c1c" stroke-width="1.2" stroke-linejoin="round"/>
<polygon points="489,548.1 486.7,547.9 486.7,588.9 489,589.1" fill="#fff" stroke="#1c1c1c" stroke-width="1.2" stroke-linejoin="round"/>
<polygon points="507.3,547.9 505,548.1 505,589.1 507.3,588.9" fill="#fff" stroke="#1c1c1c" stroke-width="1.2" stroke-linejoin="round"/>
<polygon points="472.2,554.4 472.1,544.5 472.1,585.5 472.2,595.4" fill="#fff" stroke="#1c1c1c" stroke-width="1.2" stroke-linejoin="round"/>
<polygon points="521.9,544.5 521.8,554.4 521.8,595.4 521.9,585.5" fill="#fff" stroke="#1c1c1c" stroke-width="1.2" stroke-linejoin="round"/>
<polygon points="486.7,547.9 475,555.1 475,596.1 486.7,588.9" fill="#fff" stroke="#1c1c1c" stroke-width="1.2" stroke-linejoin="round"/>
<polygon points="519,555.1 507.3,547.9 507.3,588.9 519,596.1" fill="#fff" stroke="#1c1c1c" stroke-width="1.2" stroke-linejoin="round"/>
<polygon points="495.5,557.5 489,548.1 489,589.1 495.5,598.5" fill="#fff" stroke="#1c1c1c" stroke-width="1.2" stroke-linejoin="round"/>
<polygon points="505,548.1 498.5,557.5 498.5,598.5 505,589.1" fill="#fff" stroke="#1c1c1c" stroke-width="1.2" stroke-linejoin="round"/>
<polygon points="475,555.1 472.2,554.4 472.2,595.4 475,596.1" fill="#fff" stroke="#1c1c1c" stroke-width="1.2" stroke-linejoin="round"/>
<polygon points="521.8,554.4 519,555.1 519,596.1 521.8,595.4" fill="#fff" stroke="#1c1c1c" stroke-width="1.2" stroke-linejoin="round"/>
<polygon points="498.5,557.5 495.5,557.5 495.5,598.5 498.5,598.5" fill="#fff" stroke="#1c1c1c" stroke-width="1.2" stroke-linejoin="round"/>
<polygon points="498.2,503.5 507.5,495 510.4,495.4 513.8,505.2 515.9,505.7 529.6,500 532,501 528.9,510.5 530.5,511.4 546,509.5 547.5,511 538.5,518.5 539.2,519.6 554,521.9 554.3,523.5 540.9,527.8 540.6,528.9 552.1,534.9 551.2,536.5 535.7,536.7 534.5,537.8 540.7,546.5 538.7,547.7 523.8,543.9 521.9,544.5 521.8,554.4 519,555.1 507.3,547.9 505,548.1 498.5,557.5 495.5,557.5 489,548.1 486.7,547.9 475,555.1 472.2,554.4 472.1,544.5 470.2,543.9 455.3,547.7 453.3,546.5 459.5,537.8 458.3,536.7 442.8,536.5 441.9,534.9 453.4,528.9 453.1,527.8 439.7,523.5 440,521.9 454.8,519.6 455.5,518.5 446.5,511 448,509.5 463.5,511.4 465.1,510.5 462,501 464.4,500 478.1,505.7 480.2,505.2 483.6,495.4 486.5,495 495.8,503.5" fill="#fff" stroke="#1c1c1c" stroke-width="1.5" stroke-linejoin="round"/>
<ellipse cx="496.7" cy="527.3" rx="30.7" ry="17.6" fill="none" stroke="#1c1c1c" stroke-width="1.5"/>
<ellipse cx="496.7" cy="527.8" rx="28.5" ry="16" fill="none" stroke="#1c1c1c" stroke-width="0.9"/>
<ellipse cx="496.7" cy="529" rx="24.5" ry="14" fill="none" stroke="#1c1c1c" stroke-width="1.0"/>
<line x1="473.1" y1="526.9" x2="473.1" y2="531.2" stroke="#1c1c1c" stroke-width="1.0"/>
<line x1="474.1" y1="524.9" x2="474.1" y2="533.3" stroke="#1c1c1c" stroke-width="1.0"/>
<line x1="475.9" y1="523" x2="475.9" y2="535.3" stroke="#1c1c1c" stroke-width="1.0"/>
<line x1="478.3" y1="521.4" x2="478.3" y2="537.1" stroke="#1c1c1c" stroke-width="1.0"/>
<line x1="481.3" y1="519.9" x2="481.3" y2="538.7" stroke="#1c1c1c" stroke-width="1.0"/>
<line x1="484.7" y1="518.7" x2="484.7" y2="539.9" stroke="#1c1c1c" stroke-width="1.0"/>
<line x1="488.5" y1="517.8" x2="488.5" y2="540.8" stroke="#1c1c1c" stroke-width="1.0"/>
<line x1="492.5" y1="517.3" x2="492.5" y2="541.4" stroke="#1c1c1c" stroke-width="1.0"/>
<line x1="496.7" y1="517.1" x2="496.7" y2="541.6" stroke="#1c1c1c" stroke-width="1.0"/>
<line x1="500.9" y1="517.3" x2="500.9" y2="541.4" stroke="#1c1c1c" stroke-width="1.0"/>
<line x1="504.9" y1="517.8" x2="504.9" y2="540.8" stroke="#1c1c1c" stroke-width="1.0"/>
<line x1="508.7" y1="518.7" x2="508.7" y2="539.9" stroke="#1c1c1c" stroke-width="1.0"/>
<line x1="512.1" y1="519.9" x2="512.1" y2="538.7" stroke="#1c1c1c" stroke-width="1.0"/>
<line x1="515.1" y1="521.4" x2="515.1" y2="537.1" stroke="#1c1c1c" stroke-width="1.0"/>
<line x1="517.5" y1="523" x2="517.5" y2="535.3" stroke="#1c1c1c" stroke-width="1.0"/>
<line x1="519.3" y1="524.9" x2="519.3" y2="533.3" stroke="#1c1c1c" stroke-width="1.0"/>
<line x1="520.3" y1="526.9" x2="520.3" y2="531.2" stroke="#1c1c1c" stroke-width="1.0"/>
<line x1="496.7" y1="488" x2="496.7" y2="597" stroke="#1c1c1c" stroke-width="0.7"/>
<line x1="554.7" y1="550.6" x2="586" y2="568.5" stroke="#1c1c1c" stroke-width="1.0"/>
<path d="M466.6,648.5 L466.6,654 A30.2,16 0 0 0 527,654 L527,648.5 Z" fill="#fff" stroke="#1c1c1c" stroke-width="1.5" stroke-linejoin="round"/>
<ellipse cx="496.8" cy="648.5" rx="30.2" ry="16" fill="#fff" stroke="#1c1c1c" stroke-width="1.5"/>
<ellipse cx="496.8" cy="648.2" rx="27.5" ry="13.8" fill="none" stroke="#1c1c1c" stroke-width="0.8"/>
<ellipse cx="496.6" cy="642.6" rx="4.3" ry="2.6" fill="none" stroke="#1c1c1c" stroke-width="1.4"/>
<path d="M493.2,644.2 A3.4,1.3 0 0 1 500,644.2" fill="none" stroke="#1c1c1c" stroke-width="1.0" stroke-linejoin="round"/>
<ellipse cx="484.2" cy="649.7" rx="4.3" ry="2.6" fill="none" stroke="#1c1c1c" stroke-width="1.4"/>
<path d="M480.8,651.3 A3.4,1.3 0 0 1 487.6,651.3" fill="none" stroke="#1c1c1c" stroke-width="1.0" stroke-linejoin="round"/>
<ellipse cx="509" cy="649.7" rx="4.3" ry="2.6" fill="none" stroke="#1c1c1c" stroke-width="1.4"/>
<path d="M505.6,651.3 A3.4,1.3 0 0 1 512.4,651.3" fill="none" stroke="#1c1c1c" stroke-width="1.0" stroke-linejoin="round"/>
<ellipse cx="496.6" cy="656.4" rx="4.3" ry="2.6" fill="none" stroke="#1c1c1c" stroke-width="1.4"/>
<path d="M493.2,658 A3.4,1.3 0 0 1 500,658" fill="none" stroke="#1c1c1c" stroke-width="1.0" stroke-linejoin="round"/>
<line x1="508.3" y1="670" x2="508.3" y2="680" stroke="#1c1c1c" stroke-width="0.8"/>
<line x1="527" y1="651.9" x2="577" y2="669" stroke="#1c1c1c" stroke-width="1.0"/>
<path d="M500,684 L500,686.2 A8.6,4 0 0 0 517.2,686.2 L517.2,684 Z" fill="#fff" stroke="#1c1c1c" stroke-width="1.3" stroke-linejoin="round"/>
<ellipse cx="508.6" cy="684" rx="8.6" ry="4" fill="#fff" stroke="#1c1c1c" stroke-width="1.3"/>
<ellipse cx="508.6" cy="684" rx="3.5" ry="1.6" fill="#888" stroke="#1c1c1c" stroke-width="1.0"/>
<line x1="508.6" y1="690" x2="508.6" y2="697" stroke="#1c1c1c" stroke-width="0.8"/>
<line x1="517.9" y1="686" x2="572.5" y2="704.2" stroke="#1c1c1c" stroke-width="1.0"/>
<path d="M504.2,699 Q508.2,696.5 512.2,699 L512.2,715 L504.2,715 Z" fill="#fff" stroke="#1c1c1c" stroke-width="1.2" stroke-linejoin="round"/>
<line x1="504.2" y1="701" x2="512.2" y2="702" stroke="#1c1c1c" stroke-width="0.8"/>
<line x1="504.2" y1="703" x2="512.2" y2="704" stroke="#1c1c1c" stroke-width="0.8"/>
<line x1="504.2" y1="705" x2="512.2" y2="706" stroke="#1c1c1c" stroke-width="0.8"/>
<line x1="504.2" y1="707" x2="512.2" y2="708" stroke="#1c1c1c" stroke-width="0.8"/>
<line x1="504.2" y1="709" x2="512.2" y2="710" stroke="#1c1c1c" stroke-width="0.8"/>
<line x1="504.2" y1="711" x2="512.2" y2="712" stroke="#1c1c1c" stroke-width="0.8"/>
<line x1="504.2" y1="713" x2="512.2" y2="714" stroke="#1c1c1c" stroke-width="0.8"/>
<path d="M501.5,715.5 L501.5,721 A7,2.6 0 0 0 515.5,721 L515.5,715.5 Z" fill="#fff" stroke="#1c1c1c" stroke-width="1.3" stroke-linejoin="round"/>
<ellipse cx="508.5" cy="715.5" rx="7" ry="2.6" fill="#fff" stroke="#1c1c1c" stroke-width="1.3"/>
<line x1="506" y1="716" x2="506" y2="721.5" stroke="#1c1c1c" stroke-width="0.7"/>
<line x1="511" y1="716" x2="511" y2="721.5" stroke="#1c1c1c" stroke-width="0.7"/>
<line x1="515.6" y1="716.7" x2="572.5" y2="734.9" stroke="#1c1c1c" stroke-width="1.0"/>
<path d="M455,735 C453.5,724 461,716.3 471,716.3 C479,716.3 483,723 487,729 C491,735 495,736.6 499,736.4 C503,736.1 507,733.5 509,730.5" fill="none" stroke="#1c1c1c" stroke-width="3.0" stroke-linejoin="round"/>
<path d="M455,735 C453.5,724 461,716.3 471,716.3 C479,716.3 483,723 487,729 C491,735 495,736.6 499,736.4 C503,736.1 507,733.5 509,730.5" fill="none" stroke="#aaa" stroke-width="0.6" stroke-linejoin="round"/>
<line x1="428" y1="728" x2="458.7" y2="717.8" stroke="#1c1c1c" stroke-width="1.0"/>
<path d="M677.1,0 L677.1,14 Q680,22 686,24 L734,24 Q741,21 743,14 L743,0" fill="#fff" stroke="#1c1c1c" stroke-width="1.3" stroke-linejoin="round"/>
<path d="M677,0 A33,14 0 0 0 743,0" fill="none" stroke="#1c1c1c" stroke-width="1.1" stroke-linejoin="round"/>
<path d="M679,-8 A31,10 0 0 0 741,-8" fill="none" stroke="#1c1c1c" stroke-width="0.9" stroke-linejoin="round"/>
<path d="M682.2,22 L682.2,72 A27.5,13 0 0 0 737.3,72 L737.3,22" fill="#fff" stroke="#1c1c1c" stroke-width="1.3" stroke-linejoin="round"/>
<path d="M682.3,22 A27.5,6 0 0 0 737.3,22" fill="none" stroke="#1c1c1c" stroke-width="1.1" stroke-linejoin="round"/>
<path d="M682.3,26 A27.5,6 0 0 0 737.3,26" fill="none" stroke="#1c1c1c" stroke-width="0.8" stroke-linejoin="round"/>
<rect x="682.9" y="29.9" width="1.5" height="45.9" rx="0.8" fill="#fff" stroke="#1c1c1c" stroke-width="0.9"/>
<rect x="684.7" y="31.2" width="2.5" height="48" rx="1.2" fill="#fff" stroke="#1c1c1c" stroke-width="0.9"/>
<rect x="688.5" y="32.3" width="3.3" height="49.9" rx="1.7" fill="#fff" stroke="#1c1c1c" stroke-width="0.9"/>
<rect x="693.8" y="33.2" width="4" height="51.3" rx="2" fill="#fff" stroke="#1c1c1c" stroke-width="0.9"/>
<rect x="700.3" y="33.8" width="4.4" height="52.2" rx="2.2" fill="#fff" stroke="#1c1c1c" stroke-width="0.9"/>
<rect x="707.5" y="34" width="4.5" height="52.5" rx="2.2" fill="#fff" stroke="#1c1c1c" stroke-width="0.9"/>
<rect x="714.9" y="33.8" width="4.4" height="52.2" rx="2.2" fill="#fff" stroke="#1c1c1c" stroke-width="0.9"/>
<rect x="721.9" y="33.2" width="4" height="51.3" rx="2" fill="#fff" stroke="#1c1c1c" stroke-width="0.9"/>
<rect x="727.8" y="32.3" width="3.3" height="49.9" rx="1.7" fill="#fff" stroke="#1c1c1c" stroke-width="0.9"/>
<rect x="732.4" y="31.2" width="2.5" height="48" rx="1.2" fill="#fff" stroke="#1c1c1c" stroke-width="0.9"/>
<rect x="735.1" y="29.9" width="1.5" height="45.9" rx="0.8" fill="#fff" stroke="#1c1c1c" stroke-width="0.9"/>
<path d="M833.2,0 L833.2,29 Q845.7,35 858.3,29 L858.3,0" fill="#fff" stroke="#1c1c1c" stroke-width="1.3" stroke-linejoin="round"/>
<path d="M836,31 L836,38 Q845.7,43 855.4,38 L855.4,31" fill="#fff" stroke="#1c1c1c" stroke-width="1.2" stroke-linejoin="round"/>
<path d="M833.2,29 A12.5,4 0 0 0 858.2,29" fill="none" stroke="#1c1c1c" stroke-width="1.0" stroke-linejoin="round"/>
<path d="M833.2,0 A12.5,3 0 0 0 858.2,0" fill="none" stroke="#1c1c1c" stroke-width="1.0" stroke-linejoin="round"/>
<ellipse cx="853.3" cy="5.8" rx="1.8" ry="3.6" fill="none" stroke="#1c1c1c" stroke-width="1.0" transform="rotate(20 853.3 5.8)"/>
<line x1="857.4" y1="8.7" x2="866" y2="13.5" stroke="#1c1c1c" stroke-width="0.8"/>
<rect x="867.3" y="16.2" width="19.5" height="6" rx="3" fill="#fff" stroke="#1c1c1c" stroke-width="1.3" transform="rotate(34 877 19.2)"/>
<ellipse cx="884.3" cy="24.1" rx="1.6" ry="2.6" fill="none" stroke="#1c1c1c" stroke-width="0.9" transform="rotate(34 884.3 24.1)"/>
<line x1="878.6" y1="0" x2="910.5" y2="7.3" stroke="#1c1c1c" stroke-width="1.0"/>
<line x1="886.4" y1="23.2" x2="913.4" y2="29" stroke="#1c1c1c" stroke-width="1.0"/>
<path d="M826,49 L826,51 A19.5,9.5 0 0 0 865,51 L865,49 Z" fill="#fff" stroke="#1c1c1c" stroke-width="1.5" stroke-linejoin="round"/>
<ellipse cx="845.5" cy="49" rx="19.5" ry="9.5" fill="#fff" stroke="#1c1c1c" stroke-width="1.5"/>
<ellipse cx="845.3" cy="48.6" rx="12" ry="5.3" fill="none" stroke="#1c1c1c" stroke-width="1.3"/>
<polyline points="799.3,0 799.3,46.4 846.7,76.4 846.7,59" fill="none" stroke="#1c1c1c" stroke-width="0.8" stroke-linejoin="round"/>
<line x1="865.1" y1="50.7" x2="913.4" y2="61.9" stroke="#1c1c1c" stroke-width="1.0"/>
<path d="M655.5,139.5 L655.5,163 A56.2,31.8 0 0 0 767.9,163 L767.9,139.5 Z" fill="#fff" stroke="#1c1c1c" stroke-width="1.6" stroke-linejoin="round"/>
<ellipse cx="711.7" cy="139.5" rx="56.2" ry="31.8" fill="#fff" stroke="#1c1c1c" stroke-width="1.6"/>
<ellipse cx="711.7" cy="139.6" rx="51.5" ry="28.6" fill="none" stroke="#1c1c1c" stroke-width="0.7"/>
<ellipse cx="712" cy="140" rx="41.8" ry="23.2" fill="none" stroke="#1c1c1c" stroke-width="0.7"/>
<ellipse cx="758" cy="143.9" rx="3.3" ry="2" fill="none" stroke="#1c1c1c" stroke-width="0.95"/>
<ellipse cx="753.5" cy="151.6" rx="3.3" ry="2" fill="none" stroke="#1c1c1c" stroke-width="0.95"/>
<ellipse cx="744.9" cy="158.1" rx="3.3" ry="2" fill="none" stroke="#1c1c1c" stroke-width="0.95"/>
<ellipse cx="733" cy="162.9" rx="3.3" ry="2" fill="none" stroke="#1c1c1c" stroke-width="0.95"/>
<ellipse cx="719.1" cy="165.4" rx="3.3" ry="2" fill="none" stroke="#1c1c1c" stroke-width="0.95"/>
<ellipse cx="704.5" cy="165.4" rx="3.3" ry="2" fill="none" stroke="#1c1c1c" stroke-width="0.95"/>
<ellipse cx="690.6" cy="162.9" rx="3.3" ry="2" fill="none" stroke="#1c1c1c" stroke-width="0.95"/>
<ellipse cx="678.7" cy="158.1" rx="3.3" ry="2" fill="none" stroke="#1c1c1c" stroke-width="0.95"/>
<ellipse cx="670.1" cy="151.6" rx="3.3" ry="2" fill="none" stroke="#1c1c1c" stroke-width="0.95"/>
<ellipse cx="665.6" cy="143.9" rx="3.3" ry="2" fill="none" stroke="#1c1c1c" stroke-width="0.95"/>
<ellipse cx="665.6" cy="135.7" rx="3.3" ry="2" fill="none" stroke="#1c1c1c" stroke-width="0.95"/>
<ellipse cx="670.1" cy="128" rx="3.3" ry="2" fill="none" stroke="#1c1c1c" stroke-width="0.95"/>
<ellipse cx="678.7" cy="121.5" rx="3.3" ry="2" fill="none" stroke="#1c1c1c" stroke-width="0.95"/>
<ellipse cx="690.6" cy="116.7" rx="3.3" ry="2" fill="none" stroke="#1c1c1c" stroke-width="0.95"/>
<ellipse cx="704.5" cy="114.2" rx="3.3" ry="2" fill="none" stroke="#1c1c1c" stroke-width="0.95"/>
<ellipse cx="719.1" cy="114.2" rx="3.3" ry="2" fill="none" stroke="#1c1c1c" stroke-width="0.95"/>
<ellipse cx="733" cy="116.7" rx="3.3" ry="2" fill="none" stroke="#1c1c1c" stroke-width="0.95"/>
<ellipse cx="744.9" cy="121.5" rx="3.3" ry="2" fill="none" stroke="#1c1c1c" stroke-width="0.95"/>
<ellipse cx="753.5" cy="128" rx="3.3" ry="2" fill="none" stroke="#1c1c1c" stroke-width="0.95"/>
<ellipse cx="758" cy="135.7" rx="3.3" ry="2" fill="none" stroke="#1c1c1c" stroke-width="0.95"/>
<ellipse cx="712.4" cy="140.1" rx="38.8" ry="21.3" fill="none" stroke="#1c1c1c" stroke-width="1.3"/>
<ellipse cx="712.4" cy="140.3" rx="37" ry="19.8" fill="none" stroke="#1c1c1c" stroke-width="0.8"/>
<path d="M678.6,151 A32,10.5 0 0 1 742.6,151" fill="none" stroke="#1c1c1c" stroke-width="1.6" stroke-linejoin="round"/>
<line x1="617" y1="166.5" x2="655.5" y2="157.5" stroke="#1c1c1c" stroke-width="1.0"/>
<path d="M776.2,210.5 L776.2,216.5 A4.8,2 0 0 0 785.8,216.5 L785.8,210.5 Z" fill="#fff" stroke="#1c1c1c" stroke-width="1.2" stroke-linejoin="round"/>
<ellipse cx="781" cy="210.5" rx="4.8" ry="2" fill="#fff" stroke="#1c1c1c" stroke-width="1.2"/>
<line x1="781" y1="218.5" x2="781" y2="301" stroke="#1c1c1c" stroke-width="0.8"/>
<line x1="787.3" y1="215.3" x2="910.4" y2="241" stroke="#1c1c1c" stroke-width="1.0"/>
<path d="M571.5,311 L571.5,327 A140,73.5 0 0 0 851.5,327 L851.5,311 Z" fill="#fff" stroke="#1c1c1c" stroke-width="1.6" stroke-linejoin="round"/>
<ellipse cx="711.5" cy="311" rx="140" ry="73.5" fill="#fff" stroke="#1c1c1c" stroke-width="1.6"/>
<ellipse cx="591.7" cy="281" rx="5" ry="3" fill="none" stroke="#1c1c1c" stroke-width="1.0"/>
<ellipse cx="582.4" cy="307.3" rx="5" ry="3" fill="none" stroke="#1c1c1c" stroke-width="1.0"/>
<ellipse cx="600.1" cy="344.1" rx="5" ry="3" fill="none" stroke="#1c1c1c" stroke-width="1.0"/>
<ellipse cx="651.4" cy="373" rx="5" ry="3" fill="none" stroke="#1c1c1c" stroke-width="1.0"/>
<ellipse cx="686.6" cy="380" rx="5" ry="3" fill="none" stroke="#1c1c1c" stroke-width="1.0"/>
<ellipse cx="710.7" cy="382" rx="5" ry="3" fill="none" stroke="#1c1c1c" stroke-width="1.0"/>
<ellipse cx="734.7" cy="380" rx="5" ry="3" fill="none" stroke="#1c1c1c" stroke-width="1.0"/>
<ellipse cx="770" cy="373" rx="5" ry="3" fill="none" stroke="#1c1c1c" stroke-width="1.0"/>
<ellipse cx="821.3" cy="344.1" rx="5" ry="3" fill="none" stroke="#1c1c1c" stroke-width="1.0"/>
<ellipse cx="839" cy="307.3" rx="5" ry="3" fill="none" stroke="#1c1c1c" stroke-width="1.0"/>
<ellipse cx="829.3" cy="281" rx="5" ry="3" fill="none" stroke="#1c1c1c" stroke-width="1.0"/>
<path d="M598.6,286.4 L598.6,292.4 A113,64 0 0 0 824.6,292.4 L824.6,286.4 Z" fill="#fff" stroke="#1c1c1c" stroke-width="1.6" stroke-linejoin="round"/>
<ellipse cx="711.6" cy="286.4" rx="113" ry="64" fill="#fff" stroke="#1c1c1c" stroke-width="1.6"/>
<ellipse cx="711.6" cy="286.8" rx="110" ry="61.5" fill="none" stroke="#1c1c1c" stroke-width="1.0"/>
<ellipse cx="691.8" cy="229.9" rx="4" ry="2.5" fill="#aaa" stroke="#1c1c1c" stroke-width="1.0"/>
<ellipse cx="730.2" cy="229.9" rx="4" ry="2.5" fill="#aaa" stroke="#1c1c1c" stroke-width="1.0"/>
<ellipse cx="768.7" cy="239.3" rx="4" ry="2.5" fill="#aaa" stroke="#1c1c1c" stroke-width="1.0"/>
<ellipse cx="797.2" cy="255.2" rx="4" ry="2.5" fill="#aaa" stroke="#1c1c1c" stroke-width="1.0"/>
<ellipse cx="813.4" cy="277.5" rx="4" ry="2.5" fill="#aaa" stroke="#1c1c1c" stroke-width="1.0"/>
<ellipse cx="813.4" cy="300.6" rx="4" ry="2.5" fill="#aaa" stroke="#1c1c1c" stroke-width="1.0"/>
<ellipse cx="797.2" cy="322.2" rx="4" ry="2.5" fill="#aaa" stroke="#1c1c1c" stroke-width="1.0"/>
<ellipse cx="768.7" cy="338.4" rx="4" ry="2.5" fill="#aaa" stroke="#1c1c1c" stroke-width="1.0"/>
<ellipse cx="730.2" cy="346.5" rx="4" ry="2.5" fill="#aaa" stroke="#1c1c1c" stroke-width="1.0"/>
<ellipse cx="691.8" cy="346.5" rx="4" ry="2.5" fill="#aaa" stroke="#1c1c1c" stroke-width="1.0"/>
<ellipse cx="653.3" cy="338.4" rx="4" ry="2.5" fill="#aaa" stroke="#1c1c1c" stroke-width="1.0"/>
<ellipse cx="624.7" cy="322.2" rx="4" ry="2.5" fill="#aaa" stroke="#1c1c1c" stroke-width="1.0"/>
<ellipse cx="608.6" cy="300.6" rx="4" ry="2.5" fill="#aaa" stroke="#1c1c1c" stroke-width="1.0"/>
<ellipse cx="608.6" cy="277.5" rx="4" ry="2.5" fill="#aaa" stroke="#1c1c1c" stroke-width="1.0"/>
<ellipse cx="624.7" cy="255.2" rx="4" ry="2.5" fill="#aaa" stroke="#1c1c1c" stroke-width="1.0"/>
<ellipse cx="653.3" cy="239.3" rx="4" ry="2.5" fill="#aaa" stroke="#1c1c1c" stroke-width="1.0"/>
<ellipse cx="711.6" cy="288" rx="96.8" ry="55.8" fill="none" stroke="#1c1c1c" stroke-width="1.4"/>
<ellipse cx="712" cy="289" rx="94" ry="52.5" fill="none" stroke="#1c1c1c" stroke-width="0.8"/>
<ellipse cx="712.9" cy="290" rx="90.5" ry="41.6" fill="none" stroke="#1c1c1c" stroke-width="0.9"/>
<polygon points="658,251 665.5,247.5 686.5,272 686.5,277 679,277" fill="#fff" stroke="#1c1c1c" stroke-width="1.1" stroke-linejoin="round"/>
<polygon points="693.5,242 701,240.5 709,271 709,275 701.5,275" fill="#fff" stroke="#1c1c1c" stroke-width="1.1" stroke-linejoin="round"/>
<polygon points="717.5,241 725,241.5 721.5,274 713.5,275 713.5,271" fill="#fff" stroke="#1c1c1c" stroke-width="1.1" stroke-linejoin="round"/>
<polygon points="757,248 764.5,250.5 745,276.5 737.5,276.5 737.5,272" fill="#fff" stroke="#1c1c1c" stroke-width="1.1" stroke-linejoin="round"/>
<polygon points="621,270 627,266 657,281 657,291 621,280" fill="#fff" stroke="#1c1c1c" stroke-width="1.1" stroke-linejoin="round"/>
<polygon points="800,269 794,265 765,281 765,291 800,279" fill="#fff" stroke="#1c1c1c" stroke-width="1.1" stroke-linejoin="round"/>
<line x1="621" y1="270" x2="657" y2="284" stroke="#1c1c1c" stroke-width="0.8"/>
<line x1="800" y1="269" x2="765" y2="284" stroke="#1c1c1c" stroke-width="0.8"/>
<line x1="679" y1="277" x2="686.5" y2="272" stroke="#1c1c1c" stroke-width="0.8"/>
<line x1="701.5" y1="275" x2="709" y2="271" stroke="#1c1c1c" stroke-width="0.8"/>
<line x1="713.5" y1="271" x2="721.5" y2="274" stroke="#1c1c1c" stroke-width="0.8"/>
<line x1="737.5" y1="272" x2="745" y2="276.5" stroke="#1c1c1c" stroke-width="0.8"/>
<path d="M632,302 Q640,312 648,322 M790,300 Q783,310 775,320" fill="none" stroke="#1c1c1c" stroke-width="1.0" stroke-linejoin="round"/>
<line x1="631" y1="320" x2="650" y2="320" stroke="#1c1c1c" stroke-width="1.0"/>
<line x1="771" y1="320" x2="791" y2="320" stroke="#1c1c1c" stroke-width="1.0"/>
<path d="M648.3,305.6 L648.3,312 A63.3,31 0 0 0 774.9,312 L774.9,305.6 Z" fill="#fff" stroke="#1c1c1c" stroke-width="1.0" stroke-linejoin="round"/>
<ellipse cx="711.6" cy="305.6" rx="63.3" ry="31" fill="#fff" stroke="#1c1c1c" stroke-width="1.5"/>
<ellipse cx="711.6" cy="305.3" rx="59.5" ry="28" fill="none" stroke="#1c1c1c" stroke-width="1.3"/>
<path d="M662,324 A49.5,21 0 0 1 761,324" fill="none" stroke="#1c1c1c" stroke-width="1.3" stroke-linejoin="round"/>
<path d="M665.5,328 A46,19 0 0 1 757.5,328" fill="none" stroke="#1c1c1c" stroke-width="0.8" stroke-linejoin="round"/>
<rect x="779.6" y="301" width="5" height="9" fill="#fff" stroke="#1c1c1c" stroke-width="0.9"/>
<line x1="533.8" y1="308.5" x2="570" y2="301.2" stroke="#1c1c1c" stroke-width="1.0"/>
<rect x="535.5" y="331" width="10" height="8" rx="2" fill="#fff" stroke="#1c1c1c" stroke-width="1.2" transform="rotate(-20 540.5 335)"/>
<line x1="545" y1="333" x2="603" y2="318.5" stroke="#1c1c1c" stroke-width="0.8"/>
<ellipse cx="604.5" cy="318" rx="2.2" ry="3.4" fill="#888" stroke="#1c1c1c" stroke-width="1.0"/>
<line x1="514.5" y1="358.2" x2="536.2" y2="338.4" stroke="#1c1c1c" stroke-width="1.0"/>
<ellipse cx="711.5" cy="447.7" rx="56.9" ry="32.8" fill="none" stroke="#1c1c1c" stroke-width="2.9"/>
<ellipse cx="711.5" cy="447.7" rx="56.9" ry="32.8" fill="none" stroke="#555" stroke-width="0.5"/>
<line x1="768.9" y1="447.4" x2="907.5" y2="478" stroke="#1c1c1c" stroke-width="1.0"/>
<path d="M639.8,529.6 L639.8,533.1 A70.7,40.7 0 0 0 781.2,533.1 L781.2,529.6 Z" fill="#fff" stroke="#1c1c1c" stroke-width="1.6" stroke-linejoin="round"/>
<ellipse cx="710.5" cy="529.6" rx="70.7" ry="40.7" fill="#fff" stroke="#1c1c1c" stroke-width="1.6"/>
<ellipse cx="710.9" cy="492.9" rx="3.2" ry="2.2" fill="none" stroke="#1c1c1c" stroke-width="1.0"/>
<ellipse cx="755.4" cy="503.5" rx="3.2" ry="2.2" fill="none" stroke="#1c1c1c" stroke-width="1.0"/>
<ellipse cx="769.5" cy="515.2" rx="3.2" ry="2.2" fill="#222" stroke="#1c1c1c" stroke-width="1.0"/>
<ellipse cx="774.9" cy="529.3" rx="3.2" ry="2.2" fill="none" stroke="#1c1c1c" stroke-width="1.0"/>
<ellipse cx="756.6" cy="555" rx="3.2" ry="2.2" fill="none" stroke="#1c1c1c" stroke-width="1.0"/>
<ellipse cx="710.9" cy="566.3" rx="3.2" ry="2.2" fill="none" stroke="#1c1c1c" stroke-width="1.0"/>
<ellipse cx="665.6" cy="555" rx="3.2" ry="2.2" fill="none" stroke="#1c1c1c" stroke-width="1.0"/>
<ellipse cx="652.3" cy="543.8" rx="3.2" ry="2.2" fill="#222" stroke="#1c1c1c" stroke-width="1.0"/>
<ellipse cx="647.6" cy="529.3" rx="3.2" ry="2.2" fill="none" stroke="#1c1c1c" stroke-width="1.0"/>
<ellipse cx="665.2" cy="503.5" rx="3.2" ry="2.2" fill="none" stroke="#1c1c1c" stroke-width="1.0"/>
<ellipse cx="711.3" cy="528.1" rx="55.9" ry="32.8" fill="none" stroke="#1c1c1c" stroke-width="1.4"/>
<ellipse cx="711.4" cy="528.1" rx="53.5" ry="30.6" fill="none" stroke="#1c1c1c" stroke-width="0.8"/>
<ellipse cx="711.5" cy="528.1" rx="52.2" ry="29.3" fill="none" stroke="#1c1c1c" stroke-width="1.2"/>
<ellipse cx="711.3" cy="528.1" rx="49" ry="26.8" fill="none" stroke="#1c1c1c" stroke-width="0.8"/>
<ellipse cx="711.2" cy="528.1" rx="46.9" ry="24.6" fill="none" stroke="#1c1c1c" stroke-width="1.6"/>
<path d="M664.3,530 A46.9,24.6 0 0 0 758.1,530" fill="none" stroke="#1c1c1c" stroke-width="1.0" stroke-linejoin="round"/>
<path d="M659.1,531 A52.2,27 0 0 0 763.5,531" fill="none" stroke="#1c1c1c" stroke-width="1.0" stroke-linejoin="round"/>
<path d="M658.3,533 A53,27 0 0 0 764.3,533" fill="none" stroke="#1c1c1c" stroke-width="1.3" stroke-linejoin="round"/>
<path d="M658.3,535 A53,26.5 0 0 0 764.3,535" fill="none" stroke="#1c1c1c" stroke-width="0.9" stroke-linejoin="round"/>
<ellipse cx="710.9" cy="528.1" rx="36.3" ry="17.6" fill="none" stroke="#1c1c1c" stroke-width="1.8"/>
<ellipse cx="710.9" cy="528.6" rx="34.5" ry="16" fill="none" stroke="#1c1c1c" stroke-width="0.8"/>
<line x1="775.4" y1="550.4" x2="775.4" y2="564.4" stroke="#1c1c1c" stroke-width="0.8"/>
<line x1="783.3" y1="538.1" x2="908.8" y2="565" stroke="#1c1c1c" stroke-width="1.0"/>
<path d="M771.8,564.4 L771.8,578.5 L775.8,578.5 L775.8,564.4 Z" fill="#fff" stroke="#1c1c1c" stroke-width="1.1" stroke-linejoin="round"/>
<line x1="771.8" y1="566" x2="775.8" y2="567" stroke="#1c1c1c" stroke-width="0.7"/>
<line x1="771.8" y1="568" x2="775.8" y2="569" stroke="#1c1c1c" stroke-width="0.7"/>
<line x1="771.8" y1="570" x2="775.8" y2="571" stroke="#1c1c1c" stroke-width="0.7"/>
<line x1="771.8" y1="572" x2="775.8" y2="573" stroke="#1c1c1c" stroke-width="0.7"/>
<line x1="771.8" y1="574" x2="775.8" y2="575" stroke="#1c1c1c" stroke-width="0.7"/>
<line x1="771.8" y1="576" x2="775.8" y2="577" stroke="#1c1c1c" stroke-width="0.7"/>
<polygon points="770.2,579.5 771.8,578.3 775.8,578.3 777.5,579.5 777.5,584 775.8,585.5 771.8,585.5 770.2,584" fill="#fff" stroke="#1c1c1c" stroke-width="1.2" stroke-linejoin="round"/>
<line x1="773.8" y1="579" x2="773.8" y2="585.3" stroke="#1c1c1c" stroke-width="0.7"/>
<line x1="778" y1="582" x2="907.2" y2="610" stroke="#1c1c1c" stroke-width="1.0"/>
<path d="M672,607.4 L672,616.9 A39.7,20.7 0 0 0 751.4,616.9 L751.4,607.4 Z" fill="#fff" stroke="#1c1c1c" stroke-width="1.7" stroke-linejoin="round"/>
<ellipse cx="711.7" cy="607.4" rx="39.7" ry="20.7" fill="#fff" stroke="#1c1c1c" stroke-width="1.7"/>
<path d="M672,609.5 A39.7,20.7 0 0 0 751.4,609.5" fill="none" stroke="#1c1c1c" stroke-width="0.8" stroke-linejoin="round"/>
<ellipse cx="711" cy="606.6" rx="32.4" ry="16" fill="none" stroke="#1c1c1c" stroke-width="1.2"/>
<path d="M679.5,611 A31.5,14 0 0 1 742.5,611" fill="none" stroke="#1c1c1c" stroke-width="1.5" stroke-linejoin="round"/>
<line x1="751.6" y1="615.8" x2="907.2" y2="651.3" stroke="#1c1c1c" stroke-width="1.0"/>
<path d="M681,682 L681,695 A30.1,13.3 0 0 0 741.3,695 L741.3,682 Z" fill="#fff" stroke="#1c1c1c" stroke-width="1.7" stroke-linejoin="round"/>
<path d="M681.1,686 A30.1,13.3 0 0 0 741.3,686" fill="none" stroke="#1c1c1c" stroke-width="0.9" stroke-linejoin="round"/>
<path d="M672,673.3 L672,678.3 A39.5,20.2 0 0 0 751,678.3 L751,673.3 Z" fill="#fff" stroke="#1c1c1c" stroke-width="1.7" stroke-linejoin="round"/>
<ellipse cx="711.5" cy="673.3" rx="39.5" ry="20.2" fill="#fff" stroke="#1c1c1c" stroke-width="1.7"/>
<path d="M672,675 A39.5,20.2 0 0 0 751,675" fill="none" stroke="#1c1c1c" stroke-width="0.8" stroke-linejoin="round"/>
<ellipse cx="710.6" cy="674.6" rx="27.9" ry="15.4" fill="none" stroke="#1c1c1c" stroke-width="1.3"/>
<ellipse cx="710.6" cy="675" rx="26.3" ry="14" fill="none" stroke="#1c1c1c" stroke-width="0.7"/>
<path d="M687.3,683 A24.2,8.3 0 0 1 735.7,683" fill="none" stroke="#1c1c1c" stroke-width="1.7" stroke-linejoin="round"/>
<path d="M687.3,683 A24.2,7.5 0 0 0 735.7,683" fill="none" stroke="#1c1c1c" stroke-width="0.8" stroke-linejoin="round"/>
<line x1="712.3" y1="707.5" x2="712.3" y2="747.5" stroke="#1c1c1c" stroke-width="1.0"/>
<line x1="751.6" y1="682.4" x2="907.2" y2="716.2" stroke="#1c1c1c" stroke-width="1.0"/>
<text transform="translate(39,52) scale(0.93,1)" font-size="18.5">17</text>
<text transform="translate(350.3,27.1) scale(0.93,1)" font-size="18.5">15</text>
<text transform="translate(346,64) scale(0.93,1)" font-size="18.5">14</text>
<text transform="translate(37,143) scale(0.93,1)" font-size="18.5">10</text>
<text transform="translate(327,144.4) scale(0.93,1)" font-size="18.5">30</text>
<text transform="translate(39.5,208) scale(0.93,1)" font-size="18.5">33</text>
<text transform="translate(37,280) scale(0.93,1)" font-size="18.5">23</text>
<text transform="translate(40,362.5) scale(0.93,1)" font-size="18.5">7</text>
<text transform="translate(410.7,429) scale(0.93,1)" font-size="18.5">25</text>
<text transform="translate(39,526.5) scale(0.93,1)" font-size="18.5">2</text>
<text transform="translate(125.4,627.7) scale(0.93,1)" font-size="18.5">6</text>
<text transform="translate(131.3,744.9) scale(0.93,1)" font-size="18.5">13</text>
<text transform="translate(587.5,575.8) scale(0.93,1)" font-size="18.5">36</text>
<text transform="translate(581.7,675.7) scale(0.93,1)" font-size="18.5">37</text>
<text transform="translate(580.4,711) scale(0.93,1)" font-size="18.5">40</text>
<text transform="translate(579.4,740.6) scale(0.93,1)" font-size="18.5">38</text>
<text transform="translate(404.2,738.3) scale(0.93,1)" font-size="18.5">39</text>
<text transform="translate(915.3,13.5) scale(0.93,1)" font-size="18.5">11</text>
<text transform="translate(915.3,36.7) scale(0.93,1)" font-size="18.5">28</text>
<text transform="translate(915.3,68.7) scale(0.93,1)" font-size="18.5">12</text>
<text transform="translate(592,175) scale(0.93,1)" font-size="18.5">22</text>
<text transform="translate(917.7,250.5) scale(0.93,1)" font-size="18.5">41</text>
<text transform="translate(519.3,313.3) scale(0.93,1)" font-size="18.5">1</text>
<text transform="translate(501.4,376) scale(0.93,1)" font-size="18.5">29</text>
<text transform="translate(916,488) scale(0.93,1)" font-size="18.5">42</text>
<text transform="translate(913.2,575.8) scale(0.93,1)" font-size="18.5">34</text>
<text transform="translate(912.2,615.8) scale(0.93,1)" font-size="18.5">35</text>
<text transform="translate(912.2,661.5) scale(0.93,1)" font-size="18.5">27</text>
<text transform="translate(912.2,726.4) scale(0.93,1)" font-size="18.5">20</text>
<text transform="translate(490.2,483.6) scale(0.88,1)" font-size="23">A</text>
<text transform="translate(706.3,770.5) scale(0.88,1)" font-size="23">A</text>
<text transform="translate(200.4,785.2) scale(1.0,1)" font-size="23">B</text>
</svg>
</body></html>
